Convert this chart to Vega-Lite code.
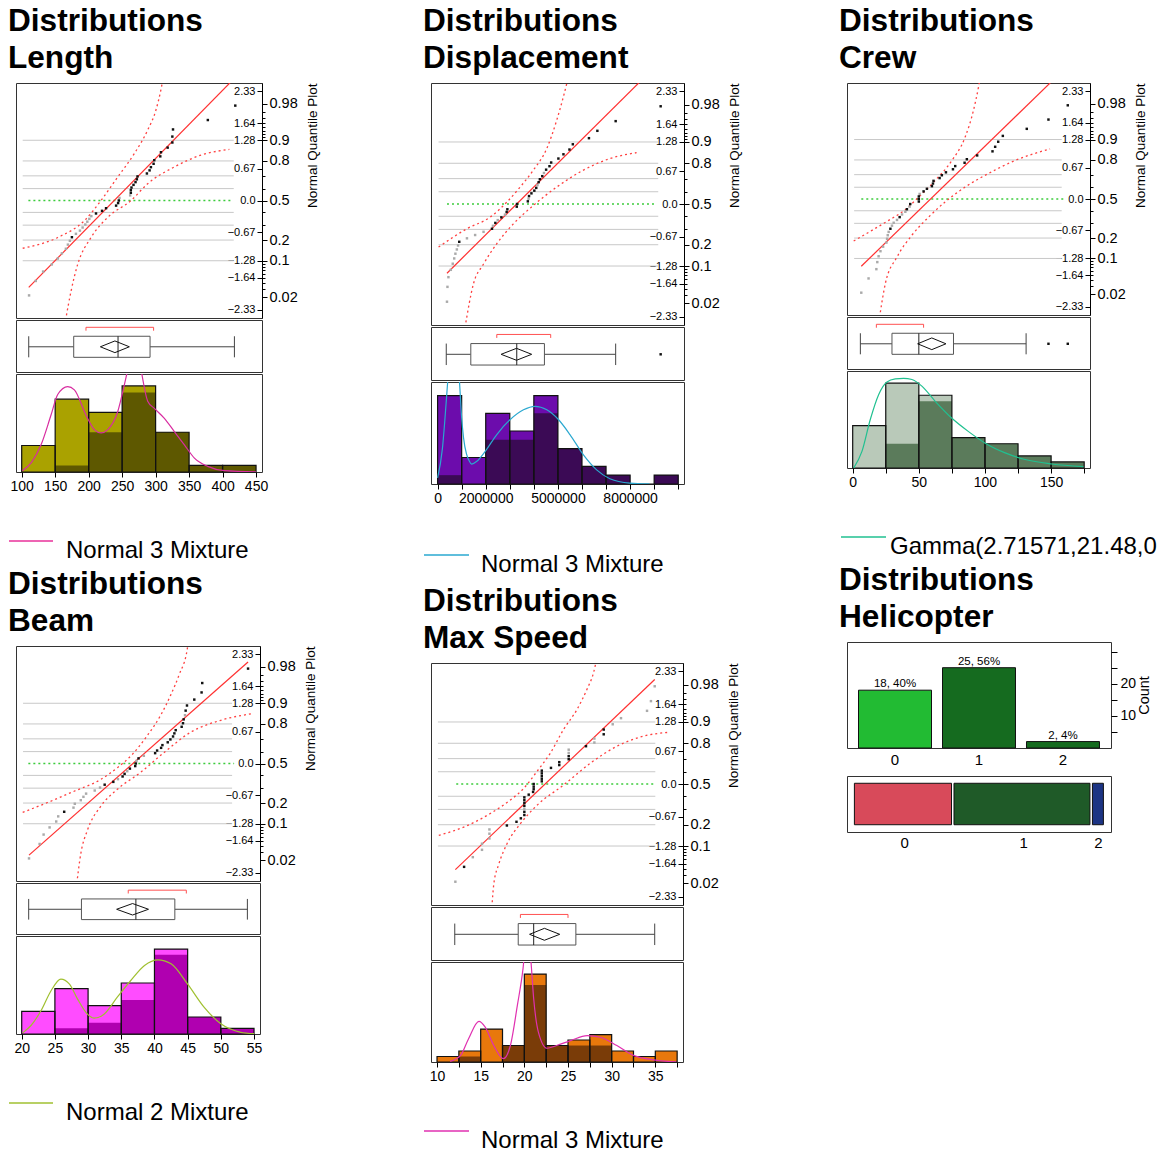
{
"$schema": "https://vega.github.io/schema/vega-lite/v6.json",
"background": "white",
"padding": {"left": 8, "top": 5, "right": 0, "bottom": 0},
"config": {
  "font": "Liberation Sans",
  "view": {"stroke": "#333", "strokeWidth": 1},
  "axis": {"labelFont": "Liberation Sans", "titleFont": "Liberation Sans", "labelColor": "#000", "titleColor": "#000", "tickColor": "#000", "domainColor": "#000", "grid": false, "titleFontWeight": "normal", "labelBound": false},
  "title": {"font": "Liberation Sans", "fontSize": 31.6, "fontWeight": "bold", "anchor": "start", "frame": "group", "dx": -8, "offset": 8, "lineHeight": 37, "color": "#000"}
},
"datasets": {
  "dec": [{"z": -1.2816}, {"z": -0.8416}, {"z": -0.5244}, {"z": -0.2533}, {"z": 0.2533}, {"z": 0.5244}, {"z": 0.8416}, {"z": 1.2816}],
  "mid": [{"z": 0}],
  "len_pts": [
    {"v":111,"z":-2.019,"s":"g"},{"v":121,"z":-1.712,"s":"g"},{"v":132,"z":-1.512,"s":"g"},{"v":145,"z":-1.36,"s":"g"},{"v":154,"z":-1.234,"s":"g"},
    {"v":160,"z":-1.125,"s":"g"},{"v":166,"z":-1.027,"s":"g"},{"v":169,"z":-0.939,"s":"g"},{"v":172,"z":-0.857,"s":"g"},{"v":175,"z":-0.781,"s":"b"},
    {"v":181,"z":-0.709,"s":"g"},{"v":187,"z":-0.641,"s":"g"},{"v":191,"z":-0.575,"s":"g"},{"v":195,"z":-0.512,"s":"g"},{"v":198,"z":-0.451,"s":"g"},
    {"v":201,"z":-0.391,"s":"g"},{"v":204,"z":-0.333,"s":"g"},{"v":211,"z":-0.276,"s":"b"},{"v":220,"z":-0.22,"s":"b"},{"v":226,"z":-0.164,"s":"b"},
    {"v":241,"z":-0.109,"s":"b"},{"v":244,"z":-0.055,"s":"b"},{"v":245,"z":0,"s":"b"},{"v":246,"z":0.055,"s":"g"},{"v":262,"z":0.109,"s":"g"},
    {"v":263,"z":0.164,"s":"b"},{"v":263,"z":0.22,"s":"b"},{"v":264,"z":0.276,"s":"b"},{"v":267,"z":0.333,"s":"b"},{"v":270,"z":0.391,"s":"b"},
    {"v":272,"z":0.451,"s":"b"},{"v":273,"z":0.512,"s":"b"},{"v":287,"z":0.575,"s":"b"},{"v":291,"z":0.641,"s":"b"},{"v":293,"z":0.709,"s":"b"},
    {"v":297,"z":0.781,"s":"b"},{"v":298,"z":0.857,"s":"b"},{"v":307,"z":0.939,"s":"b"},{"v":308,"z":1.027,"s":"b"},{"v":318,"z":1.125,"s":"b"},
    {"v":325,"z":1.234,"s":"b"},{"v":325,"z":1.36,"s":"b"},{"v":326,"z":1.512,"s":"b"},{"v":378,"z":1.712,"s":"b"},{"v":419,"z":2.019,"s":"b"}],
  "len_cb": [
    {"c":"a","x":101.5,"z":-1.016},{"c":"a","x":153.8,"z":-0.787},{"c":"a","x":193.6,"z":-0.429},{"c":"a","x":218.5,"z":0},{"c":"a","x":243.4,"z":0.5},
    {"c":"a","x":268.3,"z":1.0},{"c":"a","x":288.2,"z":1.5},{"c":"a","x":300.6,"z":1.93},{"c":"a","x":308,"z":2.36},{"c":"a","x":310.6,"z":2.55},
    {"c":"b","x":165.5,"z":-2.55},{"c":"b","x":173.7,"z":-1.93},{"c":"b","x":183.6,"z":-1.36},{"c":"b","x":203.6,"z":-0.787},{"c":"b","x":228.5,"z":-0.358},
    {"c":"b","x":263.3,"z":0},{"c":"b","x":288.2,"z":0.358},{"c":"b","x":328.1,"z":0.715},{"c":"b","x":367.8,"z":0.966},{"c":"b","x":410.2,"z":1.087}],
  "len_fit": [{"x":110.5,"z":-1.85},{"x":417.7,"z":2.6}],
  "len_box": [{"mn":110.5,"q1":177.7,"md":243.9,"q3":291.7,"mx":417.7,"mu":239.2,"cl":217.5,"ch":260.8,"sl":196,"sh":297}],
  "len_hist": [{"b0":100,"b1":150,"n":4,"k":0},{"b0":150,"b1":200,"n":11,"k":1},{"b0":200,"b1":250,"n":9,"k":6},{"b0":250,"b1":300,"n":13,"k":12},{"b0":300,"b1":350,"n":6,"k":6},{"b0":350,"b1":400,"n":1,"k":1},{"b0":400,"b1":450,"n":1,"k":1}],
  "len_curve": [{"x":101,"c":0.2},{"x":115,"c":1.5},{"x":128.9,"c":4.1},{"x":143.8,"c":8.6},{"x":153.8,"c":11.7},{"x":168.7,"c":12.9},{"x":178.7,"c":12.4},{"x":196,"c":8.6},{"x":208.6,"c":6.4},{"x":218.5,"c":5.9},{"x":228.5,"c":6.4},{"x":243.4,"c":9.1},{"x":253.4,"c":13.2},{"x":258.3,"c":15.5},{"x":263,"c":18.5},{"x":268,"c":19.5},{"x":273,"c":18.5},{"x":278.2,"c":15.5},{"x":288.2,"c":10.7},{"x":298.2,"c":9.6},{"x":313.1,"c":8.1},{"x":328,"c":6.1},{"x":343,"c":4.1},{"x":358,"c":2.1},{"x":377.8,"c":0.85},{"x":402.8,"c":0.2},{"x":450,"c":0.02}],
  "disp_pts": [
    {"v":390000,"z":-2.019,"s":"g"},{"v":410000,"z":-1.712,"s":"g"},{"v":450000,"z":-1.512,"s":"g"},{"v":550000,"z":-1.36,"s":"g"},{"v":630000,"z":-1.234,"s":"g"},
    {"v":690000,"z":-1.125,"s":"g"},{"v":740000,"z":-1.027,"s":"g"},{"v":800000,"z":-0.939,"s":"g"},{"v":850000,"z":-0.857,"s":"g"},{"v":900000,"z":-0.781,"s":"b"},
    {"v":1220000,"z":-0.709,"s":"g"},{"v":1560000,"z":-0.641,"s":"g"},{"v":1910000,"z":-0.575,"s":"g"},{"v":2260000,"z":-0.512,"s":"b"},{"v":2300000,"z":-0.451,"s":"g"},
    {"v":2400000,"z":-0.391,"s":"b"},{"v":2500000,"z":-0.333,"s":"g"},{"v":2650000,"z":-0.276,"s":"b"},{"v":2800000,"z":-0.22,"s":"g"},{"v":2870000,"z":-0.164,"s":"b"},
    {"v":2900000,"z":-0.109,"s":"b"},{"v":3290000,"z":-0.055,"s":"b"},{"v":3300000,"z":0,"s":"b"},{"v":3750000,"z":0.055,"s":"b"},{"v":3780000,"z":0.109,"s":"g"},
    {"v":3800000,"z":0.164,"s":"b"},{"v":3900000,"z":0.22,"s":"b"},{"v":4020000,"z":0.276,"s":"b"},{"v":4100000,"z":0.333,"s":"b"},{"v":4150000,"z":0.391,"s":"g"},
    {"v":4200000,"z":0.451,"s":"b"},{"v":4250000,"z":0.512,"s":"b"},{"v":4350000,"z":0.575,"s":"b"},{"v":4420000,"z":0.641,"s":"g"},{"v":4510000,"z":0.709,"s":"b"},
    {"v":4650000,"z":0.781,"s":"b"},{"v":4720000,"z":0.857,"s":"b"},{"v":5020000,"z":0.939,"s":"b"},{"v":5230000,"z":1.027,"s":"b"},{"v":5480000,"z":1.125,"s":"b"},
    {"v":5620000,"z":1.234,"s":"b"},{"v":6290000,"z":1.36,"s":"b"},{"v":6640000,"z":1.512,"s":"b"},{"v":7400000,"z":1.712,"s":"b"},{"v":9270000,"z":2.019,"s":"b"}],
  "disp_cb": [
    {"c":"a","x":40000,"z":-0.89},{"c":"a","x":1220000,"z":-0.51},{"c":"a","x":2190000,"z":-0.27},{"c":"a","x":2880000,"z":0.04},{"c":"a","x":3430000,"z":0.35},
    {"c":"a","x":3980000,"z":0.7},{"c":"a","x":4540000,"z":1.15},{"c":"a","x":4950000,"z":1.73},{"c":"a","x":5230000,"z":2.22},{"c":"a","x":5400000,"z":2.55},
    {"c":"b","x":1140000,"z":-2.55},{"c":"b","x":1490000,"z":-1.65},{"c":"b","x":1910000,"z":-1.24},{"c":"b","x":2460000,"z":-0.82},{"c":"b","x":3150000,"z":-0.41},
    {"c":"b","x":3980000,"z":-0.03},{"c":"b","x":4950000,"z":0.35},{"c":"b","x":6060000,"z":0.7},{"c":"b","x":7170000,"z":0.94},{"c":"b","x":8270000,"z":1.06}],
  "disp_fit": [{"x":390000,"z":-1.43},{"x":9270000,"z":2.95}],
  "disp_box": [{"mn":360000,"q1":1380000,"md":3290000,"q3":4440000,"mx":7400000,"mu":3280000,"cl":2640000,"ch":3910000,"sl":2460000,"sh":4700000}],
  "disp_hist": [{"b0":0,"b1":1000000,"n":10,"k":1},{"b0":1000000,"b1":2000000,"n":3,"k":0},{"b0":2000000,"b1":3000000,"n":8,"k":5},{"b0":3000000,"b1":4000000,"n":6,"k":5},{"b0":4000000,"b1":5000000,"n":10,"k":8},{"b0":5000000,"b1":6000000,"n":4,"k":4},{"b0":6000000,"b1":7000000,"n":2,"k":2},{"b0":7000000,"b1":8000000,"n":1,"k":1},{"b0":8000000,"b1":9000000,"n":0,"k":0},{"b0":9000000,"b1":10000000,"n":1,"k":1}],
  "disp_curve": [{"x":0,"c":0.7},{"x":200000,"c":4},{"x":350000,"c":9},{"x":420000,"c":11.6},{"x":550000,"c":17},{"x":660000,"c":20},{"x":780000,"c":17},{"x":910000,"c":11.6},{"x":1000000,"c":7.5},{"x":1080000,"c":5.2},{"x":1200000,"c":3.4},{"x":1300000,"c":2.7},{"x":1420000,"c":2.26},{"x":1630000,"c":2.57},{"x":1980000,"c":3.7},{"x":2460000,"c":5.6},{"x":3020000,"c":7.3},{"x":3570000,"c":8.4},{"x":4050000,"c":8.8},{"x":4540000,"c":8.4},{"x":5020000,"c":7.3},{"x":5500000,"c":5.6},{"x":6060000,"c":3.3},{"x":6610000,"c":1.6},{"x":7160000,"c":0.6},{"x":7990000,"c":0.1},{"x":8800000,"c":0.01}],
  "crew_pts": [
    {"v":6.5,"z":-2.019,"s":"g"},{"v":12,"z":-1.712,"s":"g"},{"v":17.9,"z":-1.512,"s":"g"},{"v":18.6,"z":-1.36,"s":"g"},{"v":19.6,"z":-1.234,"s":"g"},
    {"v":21,"z":-1.125,"s":"g"},{"v":23,"z":-1.027,"s":"g"},{"v":25.5,"z":-0.939,"s":"g"},{"v":26,"z":-0.857,"s":"g"},{"v":26.5,"z":-0.781,"s":"g"},
    {"v":27.2,"z":-0.709,"s":"g"},{"v":28.5,"z":-0.641,"s":"b"},{"v":29.7,"z":-0.575,"s":"g"},{"v":31,"z":-0.512,"s":"g"},{"v":33.5,"z":-0.451,"s":"g"},
    {"v":35.5,"z":-0.391,"s":"b"},{"v":37.3,"z":-0.333,"s":"g"},{"v":39.8,"z":-0.276,"s":"g"},{"v":41,"z":-0.22,"s":"b"},{"v":43,"z":-0.164,"s":"g"},
    {"v":43.5,"z":-0.109,"s":"b"},{"v":50,"z":-0.055,"s":"b"},{"v":50,"z":0,"s":"b"},{"v":50,"z":0.055,"s":"b"},{"v":50.6,"z":0.109,"s":"g"},
    {"v":53.6,"z":0.164,"s":"b"},{"v":56.1,"z":0.22,"s":"b"},{"v":59.9,"z":0.276,"s":"b"},{"v":60.7,"z":0.333,"s":"b"},{"v":61.1,"z":0.391,"s":"b"},
    {"v":65.7,"z":0.451,"s":"b"},{"v":67.4,"z":0.512,"s":"b"},{"v":70.5,"z":0.575,"s":"b"},{"v":75.8,"z":0.641,"s":"b"},{"v":77.5,"z":0.709,"s":"b"},
    {"v":84.6,"z":0.781,"s":"b"},{"v":86.3,"z":0.857,"s":"b"},{"v":94.1,"z":0.939,"s":"b"},{"v":105.7,"z":1.027,"s":"b"},{"v":107.7,"z":1.125,"s":"b"},
    {"v":110,"z":1.234,"s":"b"},{"v":113.5,"z":1.36,"s":"b"},{"v":131.6,"z":1.512,"s":"b"},{"v":148,"z":1.712,"s":"b"},{"v":162.6,"z":2.019,"s":"b"}],
  "crew_cb": [
    {"c":"a","x":0.75,"z":-0.905},{"c":"a","x":14.6,"z":-0.675},{"c":"a","x":27.2,"z":-0.46},{"c":"a","x":39.8,"z":-0.23},{"c":"a","x":49.8,"z":0.04},
    {"c":"a","x":62.4,"z":0.4},{"c":"a","x":75,"z":0.83},{"c":"a","x":85.1,"z":1.34},{"c":"a","x":91.3,"z":1.91},{"c":"a","x":95.1,"z":2.41},{"c":"a","x":96,"z":2.55},
    {"c":"b","x":20.3,"z":-2.55},{"c":"b","x":24.7,"z":-1.82},{"c":"b","x":33.5,"z":-1.25},{"c":"b","x":44.8,"z":-0.78},{"c":"b","x":57.4,"z":-0.39},
    {"c":"b","x":70,"z":-0.06},{"c":"b","x":85.1,"z":0.26},{"c":"b","x":102.7,"z":0.55},{"c":"b","x":122.8,"z":0.83},{"c":"b","x":149.2,"z":1.08}],
  "crew_fit": [{"x":6.5,"z":-1.45},{"x":162.6,"z":2.87}],
  "crew_box": [{"mn":5.8,"q1":29.7,"md":50,"q3":76.2,"mx":131.1,"mu":59.8,"cl":49.1,"ch":70.5,"sl":17.9,"sh":53.6}],
  "crew_hist": [{"b0":0,"b1":25,"n":7,"k":0},{"b0":25,"b1":50,"n":14,"k":4},{"b0":50,"b1":75,"n":12,"k":11},{"b0":75,"b1":100,"n":5,"k":5},{"b0":100,"b1":125,"n":4,"k":4},{"b0":125,"b1":150,"n":2,"k":2},{"b0":150,"b1":175,"n":1,"k":1}],
  "crew_curve": [{"x":0.75,"c":0},{"x":7,"c":2.75},{"x":13.3,"c":8},{"x":19.6,"c":12.1},{"x":25.9,"c":14.2},{"x":32.2,"c":14.7},{"x":38.5,"c":14.8},{"x":44.8,"c":14.6},{"x":52.3,"c":13.5},{"x":62.4,"c":11},{"x":75,"c":8.2},{"x":87.6,"c":6},{"x":100.2,"c":4.1},{"x":115.3,"c":2.5},{"x":130.4,"c":1.4},{"x":150.5,"c":0.66},{"x":174.4,"c":0.22}],
  "beam_pts": [
    {"v":21.1,"z":-2.019,"s":"g"},{"v":22.7,"z":-1.712,"s":"g"},{"v":23.3,"z":-1.512,"s":"g"},{"v":24.2,"z":-1.36,"s":"g"},{"v":25.2,"z":-1.234,"s":"g"},
    {"v":25.5,"z":-1.125,"s":"g"},{"v":26.4,"z":-1.027,"s":"b"},{"v":27.8,"z":-0.939,"s":"g"},{"v":28,"z":-0.857,"s":"g"},{"v":28.9,"z":-0.781,"s":"g"},
    {"v":29.3,"z":-0.709,"s":"g"},{"v":29.7,"z":-0.641,"s":"g"},{"v":31,"z":-0.575,"s":"g"},{"v":31.8,"z":-0.512,"s":"g"},{"v":32.5,"z":-0.451,"s":"b"},
    {"v":33.8,"z":-0.391,"s":"b"},{"v":34.5,"z":-0.333,"s":"g"},{"v":35.2,"z":-0.276,"s":"b"},{"v":35.5,"z":-0.22,"s":"b"},{"v":35.9,"z":-0.164,"s":"g"},
    {"v":36.3,"z":-0.109,"s":"b"},{"v":37.1,"z":-0.055,"s":"b"},{"v":37.2,"z":0,"s":"b"},{"v":37.3,"z":0.055,"s":"g"},{"v":37.6,"z":0.109,"s":"b"},
    {"v":38.4,"z":0.164,"s":"g"},{"v":40.1,"z":0.22,"s":"b"},{"v":40.4,"z":0.276,"s":"b"},{"v":41,"z":0.333,"s":"b"},{"v":41.2,"z":0.391,"s":"b"},
    {"v":42,"z":0.451,"s":"b"},{"v":42.4,"z":0.512,"s":"b"},{"v":42.8,"z":0.575,"s":"b"},{"v":43,"z":0.641,"s":"b"},{"v":43.2,"z":0.709,"s":"b"},
    {"v":44.1,"z":0.781,"s":"b"},{"v":44.3,"z":0.857,"s":"b"},{"v":44.4,"z":0.939,"s":"b"},{"v":44.6,"z":1.027,"s":"g"},{"v":44.7,"z":1.125,"s":"b"},
    {"v":44.9,"z":1.234,"s":"b"},{"v":46,"z":1.36,"s":"b"},{"v":47.1,"z":1.512,"s":"b"},{"v":47.2,"z":1.712,"s":"b"},{"v":54.1,"z":2.019,"s":"b"}],
  "beam_cb": [
    {"c":"a","x":20.15,"z":-1.04},{"c":"a","x":23.9,"z":-0.83},{"c":"a","x":27.9,"z":-0.59},{"c":"a","x":31.9,"z":-0.34},{"c":"a","x":34.4,"z":-0.09},
    {"c":"a","x":36.7,"z":0.2},{"c":"a","x":38.95,"z":0.6},{"c":"a","x":40.95,"z":1.03},{"c":"a","x":42.46,"z":1.46},{"c":"a","x":43.72,"z":1.89},{"c":"a","x":44.97,"z":2.46},{"c":"a","x":45.05,"z":2.55},
    {"c":"b","x":28.3,"z":-2.55},{"c":"b","x":28.9,"z":-1.92},{"c":"b","x":29.9,"z":-1.42},{"c":"b","x":31.9,"z":-0.91},{"c":"b","x":34.4,"z":-0.55},
    {"c":"b","x":37.9,"z":-0.19},{"c":"b","x":41.5,"z":0.24},{"c":"b","x":45.5,"z":0.67},{"c":"b","x":50,"z":0.92},{"c":"b","x":54.7,"z":1.06}],
  "beam_fit": [{"x":21.1,"z":-1.95},{"x":54.1,"z":2.16}],
  "beam_box": [{"mn":21.05,"q1":29,"md":37.2,"q3":43.07,"mx":54,"mu":36.7,"cl":34.3,"ch":39.1,"sl":36.05,"sh":44.8}],
  "beam_hist": [{"b0":20,"b1":25,"n":4,"k":0},{"b0":25,"b1":30,"n":8,"k":1},{"b0":30,"b1":35,"n":5,"k":2},{"b0":35,"b1":40,"n":9,"k":6},{"b0":40,"b1":45,"n":15,"k":14},{"b0":45,"b1":50,"n":3,"k":3},{"b0":50,"b1":55,"n":1,"k":1}],
  "beam_curve": [{"x":20.15,"c":0.2},{"x":21.4,"c":1.5},{"x":22.9,"c":4.1},{"x":24.4,"c":7.6},{"x":25.9,"c":9.7},{"x":27.2,"c":8.8},{"x":28.4,"c":6.2},{"x":29.9,"c":3.5},{"x":30.9,"c":2.8},{"x":32.4,"c":3.5},{"x":34.4,"c":6.5},{"x":36.4,"c":9.4},{"x":38.5,"c":12.1},{"x":40.5,"c":13.1},{"x":42.5,"c":12.4},{"x":45,"c":8.8},{"x":47.5,"c":4.7},{"x":50,"c":1.8},{"x":53,"c":0.3},{"x":55,"c":0.05}],
  "spd_pts": [
    {"v":12.1,"z":-2.019,"s":"g"},{"v":13.1,"z":-1.712,"s":"b"},{"v":14.1,"z":-1.512,"s":"g"},{"v":15.15,"z":-1.36,"s":"g"},{"v":15.15,"z":-1.234,"s":"g"},
    {"v":16,"z":-1.125,"s":"g"},{"v":16,"z":-1.027,"s":"g"},{"v":16,"z":-0.939,"s":"g"},{"v":18,"z":-0.857,"s":"b"},{"v":19.1,"z":-0.781,"s":"b"},
    {"v":19.6,"z":-0.709,"s":"b"},{"v":20,"z":-0.641,"s":"b"},{"v":20,"z":-0.575,"s":"b"},{"v":20,"z":-0.512,"s":"g"},{"v":20,"z":-0.451,"s":"b"},
    {"v":20,"z":-0.391,"s":"b"},{"v":20,"z":-0.333,"s":"b"},{"v":20,"z":-0.276,"s":"b"},{"v":20.5,"z":-0.22,"s":"b"},{"v":21,"z":-0.164,"s":"b"},
    {"v":21.07,"z":-0.109,"s":"b"},{"v":21.07,"z":-0.055,"s":"b"},{"v":21.07,"z":0,"s":"b"},{"v":22,"z":0.055,"s":"b"},{"v":22,"z":0.109,"s":"b"},
    {"v":22,"z":0.164,"s":"b"},{"v":22,"z":0.22,"s":"b"},{"v":22,"z":0.276,"s":"b"},{"v":23.05,"z":0.333,"s":"b"},{"v":24,"z":0.391,"s":"b"},
    {"v":24,"z":0.451,"s":"b"},{"v":25.08,"z":0.512,"s":"b"},{"v":25.08,"z":0.575,"s":"b"},{"v":25.08,"z":0.641,"s":"g"},{"v":25.08,"z":0.709,"s":"g"},
    {"v":27.06,"z":0.781,"s":"b"},{"v":28.02,"z":0.857,"s":"g"},{"v":28.02,"z":0.939,"s":"g"},{"v":29.09,"z":1.027,"s":"b"},{"v":29.09,"z":1.125,"s":"b"},
    {"v":30.12,"z":1.234,"s":"g"},{"v":31.07,"z":1.36,"s":"g"},{"v":34.05,"z":1.512,"s":"g"},{"v":34.5,"z":1.712,"s":"g"},{"v":34.93,"z":2.019,"s":"g"}],
  "spd_cb": [
    {"c":"a","x":10.2,"z":-1.06},{"c":"a","x":13.06,"z":-0.89},{"c":"a","x":16.1,"z":-0.61},{"c":"a","x":18.4,"z":-0.33},{"c":"a","x":19.93,"z":-0.09},
    {"c":"a","x":21.45,"z":0.26},{"c":"a","x":22.98,"z":0.64},{"c":"a","x":24.5,"z":1.13},{"c":"a","x":26.03,"z":1.54},{"c":"a","x":27.18,"z":1.96},{"c":"a","x":27.94,"z":2.31},{"c":"a","x":28.25,"z":2.55},
    {"c":"b","x":16.28,"z":-2.55},{"c":"b","x":16.5,"z":-2.07},{"c":"b","x":17.07,"z":-1.66},{"c":"b","x":18,"z":-1.24},{"c":"b","x":19.55,"z":-0.82},
    {"c":"b","x":21.45,"z":-0.44},{"c":"b","x":24.5,"z":-0.02},{"c":"b","x":27.56,"z":0.43},{"c":"b","x":30.6,"z":0.78},{"c":"b","x":33.67,"z":0.99},{"c":"b","x":36.7,"z":1.07}],
  "spd_fit": [{"x":12.1,"z":-1.77},{"x":34.93,"z":2.16}],
  "spd_box": [{"mn":12.03,"q1":19.3,"md":21.07,"q3":25.9,"mx":34.93,"mu":22.3,"cl":20.6,"ch":24.05,"sl":19.55,"sh":25}],
  "spd_hist": [{"b0":10,"b1":12.5,"n":1,"k":0},{"b0":12.5,"b1":15,"n":2,"k":1},{"b0":15,"b1":17.5,"n":6,"k":0},{"b0":17.5,"b1":20,"n":3,"k":3},{"b0":20,"b1":22.5,"n":16,"k":14},{"b0":22.5,"b1":25,"n":3,"k":3},{"b0":25,"b1":27.5,"n":4,"k":3},{"b0":27.5,"b1":30,"n":5,"k":3},{"b0":30,"b1":32.5,"n":2,"k":0},{"b0":32.5,"b1":35,"n":1,"k":0},{"b0":35,"b1":37.5,"n":2,"k":0}],
  "spd_curve": [{"x":11.5,"c":0.1},{"x":12.7,"c":1.2},{"x":13.6,"c":4.2},{"x":14.8,"c":7.4},{"x":15.5,"c":6.4},{"x":16.5,"c":3},{"x":17.6,"c":0.6},{"x":18.4,"c":3},{"x":19.2,"c":10.3},{"x":19.85,"c":17},{"x":20.3,"c":24},{"x":20.76,"c":18.2},{"x":21.07,"c":11.5},{"x":21.6,"c":5.5},{"x":22.6,"c":2.5},{"x":23.7,"c":3},{"x":25.3,"c":3.9},{"x":27.2,"c":4.8},{"x":28.7,"c":4.5},{"x":30.6,"c":3},{"x":32.5,"c":1.2},{"x":35.2,"c":0.3},{"x":37.4,"c":0.02}],
  "heli": [{"k":"0","n":18,"lab":"18, 40%","p0":0,"p1":0.4},{"k":"1","n":25,"lab":"25, 56%","p0":0.4,"p1":0.956},{"k":"2","n":2,"lab":"2, 4%","p0":0.956,"p1":1}]
},
"spacing": 97,
"hconcat": [
 {"spacing": 103, "hconcat": [
  {"spacing": 5, "vconcat": [
   {"spacing": 36, "vconcat": [
    {"title": {"text": ["Distributions", "Length"]}, "spacing": 0, "vconcat": [
     {"width": 246, "height": 235, "resolve": {"axis": {"y": "independent"}}, "layer": [
      {"data": {"name": "dec"}, "mark": {"type": "rule", "color": "#c8c8c8"}, "encoding": {"x": {"datum": 101.5, "type": "quantitative", "scale": {"domain": [91.5, 458.9], "nice": false, "zero": false}, "axis": null}, "x2": {"datum": 416.7}, "y": {"field": "z", "type": "quantitative", "scale": {"domain": [-2.5, 2.5], "nice": false, "zero": false}, "axis": {"orient": "right", "values": [2.3263, 1.6449, 1.2816, 0.6745, 0, -0.6745, -1.2816, -1.6449, -2.3263], "labelExpr": "datum.value == 0 ? '0.0' : format(datum.value, '.2f')", "tickSize": -5, "labelPadding": -2, "labelAlign": "right", "labelBaseline": "middle", "labelFontSize": 11, "domain": false, "title": null, "labelOverlap": false, "labelFlush": false}}}},
      {"data": {"name": "mid"}, "mark": {"type": "rule", "color": "#3ccc3c", "strokeDash": [2, 3], "strokeWidth": 1.5}, "encoding": {"x": {"datum": 110, "type": "quantitative", "scale": {"domain": [91.5, 458.9], "nice": false, "zero": false}, "axis": null}, "x2": {"datum": 415}, "y": {"field": "z", "type": "quantitative", "scale": {"domain": [-2.5, 2.5], "nice": false, "zero": false}, "axis": {"orient": "right", "values": [-1.8808, -1.7507, -1.6449, -1.5548, -1.4758, -1.4051, -1.3408, -0.5244, -0.2533, 0.2533, 0.5244, 1.3408, 1.4051, 1.4758, 1.5548, 1.6449, 1.7507, 1.8808], "labels": false, "tickSize": 3, "domain": false, "title": null}}}},
      {"data": {"name": "len_cb"}, "mark": {"type": "line", "color": "#ff4040", "strokeDash": [2, 3], "strokeWidth": 1.3, "clip": true, "interpolate": "monotone"}, "encoding": {"x": {"field": "x", "type": "quantitative", "scale": {"domain": [91.5, 458.9], "nice": false, "zero": false}, "axis": null}, "y": {"field": "z", "type": "quantitative", "scale": {"domain": [-2.5, 2.5], "nice": false, "zero": false}, "axis": null}, "detail": {"field": "c"}}},
      {"data": {"name": "len_fit"}, "mark": {"type": "line", "color": "#ff3030", "strokeWidth": 1.2, "clip": true}, "encoding": {"x": {"field": "x", "type": "quantitative", "scale": {"domain": [91.5, 458.9], "nice": false, "zero": false}, "axis": null}, "y": {"field": "z", "type": "quantitative", "scale": {"domain": [-2.5, 2.5], "nice": false, "zero": false}, "axis": null}}},
      {"data": {"name": "len_pts"}, "transform": [{"filter": "datum.s == 'g'"}], "mark": {"type": "square", "size": 6, "color": "#aaaaaa", "opacity": 1}, "encoding": {"x": {"field": "v", "type": "quantitative", "scale": {"domain": [91.5, 458.9], "nice": false, "zero": false}, "axis": null}, "y": {"field": "z", "type": "quantitative", "scale": {"domain": [-2.5, 2.5], "nice": false, "zero": false}, "axis": null}}},
      {"data": {"name": "len_pts"}, "transform": [{"filter": "datum.s == 'b'"}], "mark": {"type": "square", "size": 6, "color": "#111111", "opacity": 1}, "encoding": {"x": {"field": "v", "type": "quantitative", "scale": {"domain": [91.5, 458.9], "nice": false, "zero": false}, "axis": null}, "y": {"field": "z", "type": "quantitative", "scale": {"domain": [-2.5, 2.5], "nice": false, "zero": false}, "axis": {"orient": "right", "values": [-2.0537, -1.2816, -0.8416, 0, 0.8416, 1.2816, 2.0537], "labelExpr": "datum.value < -2 ? '0.02' : datum.value < -1 ? '0.1' : datum.value < -0.5 ? '0.2' : datum.value < 0.5 ? '0.5' : datum.value < 1 ? '0.8' : datum.value < 2 ? '0.9' : '0.98'", "tickSize": 5, "labelPadding": 2, "labelFontSize": 14.5, "labelOverlap": false, "labelFlush": false, "domain": true, "title": "Normal Quantile Plot", "titleFontSize": 13.5, "titleAngle": 270, "titleBaseline": "top", "titleAnchor": "end", "titlePadding": 8}}}}
     ]},
     {"width": 246, "height": 52, "data": {"name": "len_box"}, "layer": [
      {"mark": {"type": "rule", "color": "#444"}, "encoding": {"x": {"field": "mn", "type": "quantitative", "scale": {"domain": [91.5, 458.9], "nice": false, "zero": false}, "axis": null}, "x2": {"field": "q1"}, "y": {"datum": 0, "type": "quantitative", "scale": {"domain": [-4.31, 4.58], "nice": false, "zero": false}, "axis": null}}},
      {"mark": {"type": "rule", "color": "#444"}, "encoding": {"x": {"field": "q3", "type": "quantitative", "scale": {"domain": [91.5, 458.9], "nice": false, "zero": false}, "axis": null}, "x2": {"field": "mx"}, "y": {"datum": 0, "type": "quantitative", "scale": {"domain": [-4.31, 4.58], "nice": false, "zero": false}, "axis": null}}},
      {"mark": {"type": "rule", "color": "#444"}, "encoding": {"x": {"field": "mn", "type": "quantitative", "scale": {"domain": [91.5, 458.9], "nice": false, "zero": false}, "axis": null}, "y": {"datum": -1.8, "type": "quantitative", "scale": {"domain": [-4.31, 4.58], "nice": false, "zero": false}, "axis": null}, "y2": {"datum": 1.8}}},
      {"mark": {"type": "rule", "color": "#444"}, "encoding": {"x": {"field": "mx", "type": "quantitative", "scale": {"domain": [91.5, 458.9], "nice": false, "zero": false}, "axis": null}, "y": {"datum": -1.8, "type": "quantitative", "scale": {"domain": [-4.31, 4.58], "nice": false, "zero": false}, "axis": null}, "y2": {"datum": 1.8}}},
      {"mark": {"type": "rect", "fill": "#ffffff", "stroke": "#555", "strokeWidth": 1}, "encoding": {"x": {"field": "q1", "type": "quantitative", "scale": {"domain": [91.5, 458.9], "nice": false, "zero": false}, "axis": null}, "x2": {"field": "q3"}, "y": {"datum": -1.8, "type": "quantitative", "scale": {"domain": [-4.31, 4.58], "nice": false, "zero": false}, "axis": null}, "y2": {"datum": 1.8}}},
      {"mark": {"type": "rule", "color": "#222"}, "encoding": {"x": {"field": "md", "type": "quantitative", "scale": {"domain": [91.5, 458.9], "nice": false, "zero": false}, "axis": null}, "y": {"datum": -1.8, "type": "quantitative", "scale": {"domain": [-4.31, 4.58], "nice": false, "zero": false}, "axis": null}, "y2": {"datum": 1.8}}},
      {"mark": {"type": "rule", "color": "#111"}, "encoding": {"x": {"field": "cl", "type": "quantitative", "scale": {"domain": [91.5, 458.9], "nice": false, "zero": false}, "axis": null}, "x2": {"field": "mu"}, "y": {"datum": 0, "type": "quantitative", "scale": {"domain": [-4.31, 4.58], "nice": false, "zero": false}, "axis": null}, "y2": {"datum": 1}}},
      {"mark": {"type": "rule", "color": "#111"}, "encoding": {"x": {"field": "mu", "type": "quantitative", "scale": {"domain": [91.5, 458.9], "nice": false, "zero": false}, "axis": null}, "x2": {"field": "ch"}, "y": {"datum": 1, "type": "quantitative", "scale": {"domain": [-4.31, 4.58], "nice": false, "zero": false}, "axis": null}, "y2": {"datum": 0}}},
      {"mark": {"type": "rule", "color": "#111"}, "encoding": {"x": {"field": "ch", "type": "quantitative", "scale": {"domain": [91.5, 458.9], "nice": false, "zero": false}, "axis": null}, "x2": {"field": "mu"}, "y": {"datum": 0, "type": "quantitative", "scale": {"domain": [-4.31, 4.58], "nice": false, "zero": false}, "axis": null}, "y2": {"datum": -1}}},
      {"mark": {"type": "rule", "color": "#111"}, "encoding": {"x": {"field": "mu", "type": "quantitative", "scale": {"domain": [91.5, 458.9], "nice": false, "zero": false}, "axis": null}, "x2": {"field": "cl"}, "y": {"datum": -1, "type": "quantitative", "scale": {"domain": [-4.31, 4.58], "nice": false, "zero": false}, "axis": null}, "y2": {"datum": 0}}},
      {"mark": {"type": "rule", "color": "#ff5050"}, "encoding": {"x": {"field": "sl", "type": "quantitative", "scale": {"domain": [91.5, 458.9], "nice": false, "zero": false}, "axis": null}, "x2": {"field": "sh"}, "y": {"datum": 3.33, "type": "quantitative", "scale": {"domain": [-4.31, 4.58], "nice": false, "zero": false}, "axis": null}}},
      {"mark": {"type": "rule", "color": "#ff5050"}, "encoding": {"x": {"field": "sl", "type": "quantitative", "scale": {"domain": [91.5, 458.9], "nice": false, "zero": false}, "axis": null}, "y": {"datum": 2.75, "type": "quantitative", "scale": {"domain": [-4.31, 4.58], "nice": false, "zero": false}, "axis": null}, "y2": {"datum": 3.33}}},
      {"mark": {"type": "rule", "color": "#ff5050"}, "encoding": {"x": {"field": "sh", "type": "quantitative", "scale": {"domain": [91.5, 458.9], "nice": false, "zero": false}, "axis": null}, "y": {"datum": 2.75, "type": "quantitative", "scale": {"domain": [-4.31, 4.58], "nice": false, "zero": false}, "axis": null}, "y2": {"datum": 3.33}}}
     ]},
     {"width": 246, "height": 98, "data": {"name": "len_hist"}, "layer": [
      {"mark": {"type": "rect", "color": "#aaa200"}, "encoding": {"x": {"field": "b0", "type": "quantitative", "scale": {"domain": [91.5, 458.9], "nice": false, "zero": false}, "axis": {"values": [100, 150, 200, 250, 300, 350, 400, 450], "tickSize": 5, "labelFontSize": 14, "labelPadding": 2, "domain": false, "title": null, "labelOverlap": false, "labelFlush": false}}, "x2": {"field": "b1"}, "y": {"field": "n", "type": "quantitative", "scale": {"domain": [0, 14.8], "nice": false}, "axis": null}, "y2": {"datum": 0}}},
      {"mark": {"type": "rect", "color": "#5e5800"}, "encoding": {"x": {"field": "b0", "type": "quantitative", "scale": {"domain": [91.5, 458.9], "nice": false, "zero": false}, "axis": {"values": [100, 150, 200, 250, 300, 350, 400, 450], "tickSize": 5, "labelFontSize": 14, "labelPadding": 2, "domain": false, "title": null, "labelOverlap": false, "labelFlush": false}}, "x2": {"field": "b1"}, "y": {"field": "k", "type": "quantitative", "scale": {"domain": [0, 14.8], "nice": false}, "axis": null}, "y2": {"datum": 0}}},
      {"mark": {"type": "rect", "fillOpacity": 0, "stroke": "#111", "strokeWidth": 1.2}, "encoding": {"x": {"field": "b0", "type": "quantitative", "scale": {"domain": [91.5, 458.9], "nice": false, "zero": false}, "axis": {"values": [100, 150, 200, 250, 300, 350, 400, 450], "tickSize": 5, "labelFontSize": 14, "labelPadding": 2, "domain": false, "title": null, "labelOverlap": false, "labelFlush": false}}, "x2": {"field": "b1"}, "y": {"field": "n", "type": "quantitative", "scale": {"domain": [0, 14.8], "nice": false}, "axis": null}, "y2": {"datum": 0}}},
      {"data": {"name": "len_curve"}, "mark": {"type": "line", "color": "#d82ca0", "strokeWidth": 1.2, "clip": true, "interpolate": "monotone"}, "encoding": {"x": {"field": "x", "type": "quantitative", "scale": {"domain": [91.5, 458.9], "nice": false, "zero": false}, "axis": {"values": [100, 150, 200, 250, 300, 350, 400, 450], "tickSize": 5, "labelFontSize": 14, "labelPadding": 2, "domain": false, "title": null, "labelOverlap": false, "labelFlush": false}}, "y": {"field": "c", "type": "quantitative", "scale": {"domain": [0, 14.8], "nice": false}, "axis": null}}}
     ]}
    ]},
    {"width": 240, "height": 30, "view": {"stroke": null}, "data": {"values": [{"t": "Normal 3 Mixture"}]}, "layer": [
     {"mark": {"type": "rule", "color": "#e8309a", "strokeWidth": 1.5}, "encoding": {"x": {"datum": -7, "type": "quantitative", "scale": {"domain": [0, 240], "nice": false, "zero": false}, "axis": null}, "x2": {"datum": 37}, "y": {"datum": 0.63, "type": "quantitative", "scale": {"domain": [0, 1], "nice": false}, "axis": null}}},
     {"mark": {"type": "text", "align": "left", "baseline": "middle", "fontSize": 24, "color": "#000"}, "encoding": {"x": {"datum": 50, "type": "quantitative", "scale": {"domain": [0, 240], "nice": false, "zero": false}, "axis": null}, "y": {"datum": 0.3, "type": "quantitative", "scale": {"domain": [0, 1], "nice": false}, "axis": null}, "text": {"field": "t"}}}
    ]}
   ]},
   {"spacing": 36, "vconcat": [
    {"title": {"text": ["Distributions", "Beam"]}, "spacing": 0, "vconcat": [
     {"width": 244, "height": 235, "resolve": {"axis": {"y": "independent"}}, "layer": [
      {"data": {"name": "dec"}, "mark": {"type": "rule", "color": "#c8c8c8"}, "encoding": {"x": {"datum": 20.2, "type": "quantitative", "scale": {"domain": [19.14, 55.9], "nice": false, "zero": false}, "axis": null}, "x2": {"datum": 51.7}, "y": {"field": "z", "type": "quantitative", "scale": {"domain": [-2.5, 2.5], "nice": false, "zero": false}, "axis": {"orient": "right", "values": [2.3263, 1.6449, 1.2816, 0.6745, 0, -0.6745, -1.2816, -1.6449, -2.3263], "labelExpr": "datum.value == 0 ? '0.0' : format(datum.value, '.2f')", "tickSize": -5, "labelPadding": -2, "labelAlign": "right", "labelBaseline": "middle", "labelFontSize": 11, "domain": false, "title": null, "labelOverlap": false, "labelFlush": false}}}},
      {"data": {"name": "mid"}, "mark": {"type": "rule", "color": "#3ccc3c", "strokeDash": [2, 3], "strokeWidth": 1.5}, "encoding": {"x": {"datum": 21, "type": "quantitative", "scale": {"domain": [19.14, 55.9], "nice": false, "zero": false}, "axis": null}, "x2": {"datum": 52}, "y": {"field": "z", "type": "quantitative", "scale": {"domain": [-2.5, 2.5], "nice": false, "zero": false}, "axis": {"orient": "right", "values": [-1.8808, -1.7507, -1.6449, -1.5548, -1.4758, -1.4051, -1.3408, -0.5244, -0.2533, 0.2533, 0.5244, 1.3408, 1.4051, 1.4758, 1.5548, 1.6449, 1.7507, 1.8808], "labels": false, "tickSize": 3, "domain": false, "title": null}}}},
      {"data": {"name": "beam_cb"}, "mark": {"type": "line", "color": "#ff4040", "strokeDash": [2, 3], "strokeWidth": 1.3, "clip": true, "interpolate": "monotone"}, "encoding": {"x": {"field": "x", "type": "quantitative", "scale": {"domain": [19.14, 55.9], "nice": false, "zero": false}, "axis": null}, "y": {"field": "z", "type": "quantitative", "scale": {"domain": [-2.5, 2.5], "nice": false, "zero": false}, "axis": null}, "detail": {"field": "c"}}},
      {"data": {"name": "beam_fit"}, "mark": {"type": "line", "color": "#ff3030", "strokeWidth": 1.2, "clip": true}, "encoding": {"x": {"field": "x", "type": "quantitative", "scale": {"domain": [19.14, 55.9], "nice": false, "zero": false}, "axis": null}, "y": {"field": "z", "type": "quantitative", "scale": {"domain": [-2.5, 2.5], "nice": false, "zero": false}, "axis": null}}},
      {"data": {"name": "beam_pts"}, "transform": [{"filter": "datum.s == 'g'"}], "mark": {"type": "square", "size": 6, "color": "#aaaaaa", "opacity": 1}, "encoding": {"x": {"field": "v", "type": "quantitative", "scale": {"domain": [19.14, 55.9], "nice": false, "zero": false}, "axis": null}, "y": {"field": "z", "type": "quantitative", "scale": {"domain": [-2.5, 2.5], "nice": false, "zero": false}, "axis": null}}},
      {"data": {"name": "beam_pts"}, "transform": [{"filter": "datum.s == 'b'"}], "mark": {"type": "square", "size": 6, "color": "#111111", "opacity": 1}, "encoding": {"x": {"field": "v", "type": "quantitative", "scale": {"domain": [19.14, 55.9], "nice": false, "zero": false}, "axis": null}, "y": {"field": "z", "type": "quantitative", "scale": {"domain": [-2.5, 2.5], "nice": false, "zero": false}, "axis": {"orient": "right", "values": [-2.0537, -1.2816, -0.8416, 0, 0.8416, 1.2816, 2.0537], "labelExpr": "datum.value < -2 ? '0.02' : datum.value < -1 ? '0.1' : datum.value < -0.5 ? '0.2' : datum.value < 0.5 ? '0.5' : datum.value < 1 ? '0.8' : datum.value < 2 ? '0.9' : '0.98'", "tickSize": 5, "labelPadding": 2, "labelFontSize": 14.5, "labelOverlap": false, "labelFlush": false, "domain": true, "title": "Normal Quantile Plot", "titleFontSize": 13.5, "titleAngle": 270, "titleBaseline": "top", "titleAnchor": "end", "titlePadding": 8}}}}
     ]},
     {"width": 244, "height": 51, "data": {"name": "beam_box"}, "layer": [
      {"mark": {"type": "rule", "color": "#444"}, "encoding": {"x": {"field": "mn", "type": "quantitative", "scale": {"domain": [19.14, 55.9], "nice": false, "zero": false}, "axis": null}, "x2": {"field": "q1"}, "y": {"datum": 0, "type": "quantitative", "scale": {"domain": [-4.31, 4.58], "nice": false, "zero": false}, "axis": null}}},
      {"mark": {"type": "rule", "color": "#444"}, "encoding": {"x": {"field": "q3", "type": "quantitative", "scale": {"domain": [19.14, 55.9], "nice": false, "zero": false}, "axis": null}, "x2": {"field": "mx"}, "y": {"datum": 0, "type": "quantitative", "scale": {"domain": [-4.31, 4.58], "nice": false, "zero": false}, "axis": null}}},
      {"mark": {"type": "rule", "color": "#444"}, "encoding": {"x": {"field": "mn", "type": "quantitative", "scale": {"domain": [19.14, 55.9], "nice": false, "zero": false}, "axis": null}, "y": {"datum": -1.8, "type": "quantitative", "scale": {"domain": [-4.31, 4.58], "nice": false, "zero": false}, "axis": null}, "y2": {"datum": 1.8}}},
      {"mark": {"type": "rule", "color": "#444"}, "encoding": {"x": {"field": "mx", "type": "quantitative", "scale": {"domain": [19.14, 55.9], "nice": false, "zero": false}, "axis": null}, "y": {"datum": -1.8, "type": "quantitative", "scale": {"domain": [-4.31, 4.58], "nice": false, "zero": false}, "axis": null}, "y2": {"datum": 1.8}}},
      {"mark": {"type": "rect", "fill": "#ffffff", "stroke": "#555", "strokeWidth": 1}, "encoding": {"x": {"field": "q1", "type": "quantitative", "scale": {"domain": [19.14, 55.9], "nice": false, "zero": false}, "axis": null}, "x2": {"field": "q3"}, "y": {"datum": -1.8, "type": "quantitative", "scale": {"domain": [-4.31, 4.58], "nice": false, "zero": false}, "axis": null}, "y2": {"datum": 1.8}}},
      {"mark": {"type": "rule", "color": "#222"}, "encoding": {"x": {"field": "md", "type": "quantitative", "scale": {"domain": [19.14, 55.9], "nice": false, "zero": false}, "axis": null}, "y": {"datum": -1.8, "type": "quantitative", "scale": {"domain": [-4.31, 4.58], "nice": false, "zero": false}, "axis": null}, "y2": {"datum": 1.8}}},
      {"mark": {"type": "rule", "color": "#111"}, "encoding": {"x": {"field": "cl", "type": "quantitative", "scale": {"domain": [19.14, 55.9], "nice": false, "zero": false}, "axis": null}, "x2": {"field": "mu"}, "y": {"datum": 0, "type": "quantitative", "scale": {"domain": [-4.31, 4.58], "nice": false, "zero": false}, "axis": null}, "y2": {"datum": 1}}},
      {"mark": {"type": "rule", "color": "#111"}, "encoding": {"x": {"field": "mu", "type": "quantitative", "scale": {"domain": [19.14, 55.9], "nice": false, "zero": false}, "axis": null}, "x2": {"field": "ch"}, "y": {"datum": 1, "type": "quantitative", "scale": {"domain": [-4.31, 4.58], "nice": false, "zero": false}, "axis": null}, "y2": {"datum": 0}}},
      {"mark": {"type": "rule", "color": "#111"}, "encoding": {"x": {"field": "ch", "type": "quantitative", "scale": {"domain": [19.14, 55.9], "nice": false, "zero": false}, "axis": null}, "x2": {"field": "mu"}, "y": {"datum": 0, "type": "quantitative", "scale": {"domain": [-4.31, 4.58], "nice": false, "zero": false}, "axis": null}, "y2": {"datum": -1}}},
      {"mark": {"type": "rule", "color": "#111"}, "encoding": {"x": {"field": "mu", "type": "quantitative", "scale": {"domain": [19.14, 55.9], "nice": false, "zero": false}, "axis": null}, "x2": {"field": "cl"}, "y": {"datum": -1, "type": "quantitative", "scale": {"domain": [-4.31, 4.58], "nice": false, "zero": false}, "axis": null}, "y2": {"datum": 0}}},
      {"mark": {"type": "rule", "color": "#ff5050"}, "encoding": {"x": {"field": "sl", "type": "quantitative", "scale": {"domain": [19.14, 55.9], "nice": false, "zero": false}, "axis": null}, "x2": {"field": "sh"}, "y": {"datum": 3.33, "type": "quantitative", "scale": {"domain": [-4.31, 4.58], "nice": false, "zero": false}, "axis": null}}},
      {"mark": {"type": "rule", "color": "#ff5050"}, "encoding": {"x": {"field": "sl", "type": "quantitative", "scale": {"domain": [19.14, 55.9], "nice": false, "zero": false}, "axis": null}, "y": {"datum": 2.75, "type": "quantitative", "scale": {"domain": [-4.31, 4.58], "nice": false, "zero": false}, "axis": null}, "y2": {"datum": 3.33}}},
      {"mark": {"type": "rule", "color": "#ff5050"}, "encoding": {"x": {"field": "sh", "type": "quantitative", "scale": {"domain": [19.14, 55.9], "nice": false, "zero": false}, "axis": null}, "y": {"datum": 2.75, "type": "quantitative", "scale": {"domain": [-4.31, 4.58], "nice": false, "zero": false}, "axis": null}, "y2": {"datum": 3.33}}}
     ]},
     {"width": 244, "height": 98, "data": {"name": "beam_hist"}, "layer": [
      {"mark": {"type": "rect", "color": "#ff4cff"}, "encoding": {"x": {"field": "b0", "type": "quantitative", "scale": {"domain": [19.14, 55.9], "nice": false, "zero": false}, "axis": {"values": [20, 25, 30, 35, 40, 45, 50, 55], "tickSize": 5, "labelFontSize": 14, "labelPadding": 2, "domain": false, "title": null, "labelOverlap": false, "labelFlush": false}}, "x2": {"field": "b1"}, "y": {"field": "n", "type": "quantitative", "scale": {"domain": [0, 17.3], "nice": false}, "axis": null}, "y2": {"datum": 0}}},
      {"mark": {"type": "rect", "color": "#b000b0"}, "encoding": {"x": {"field": "b0", "type": "quantitative", "scale": {"domain": [19.14, 55.9], "nice": false, "zero": false}, "axis": {"values": [20, 25, 30, 35, 40, 45, 50, 55], "tickSize": 5, "labelFontSize": 14, "labelPadding": 2, "domain": false, "title": null, "labelOverlap": false, "labelFlush": false}}, "x2": {"field": "b1"}, "y": {"field": "k", "type": "quantitative", "scale": {"domain": [0, 17.3], "nice": false}, "axis": null}, "y2": {"datum": 0}}},
      {"mark": {"type": "rect", "fillOpacity": 0, "stroke": "#111", "strokeWidth": 1.2}, "encoding": {"x": {"field": "b0", "type": "quantitative", "scale": {"domain": [19.14, 55.9], "nice": false, "zero": false}, "axis": {"values": [20, 25, 30, 35, 40, 45, 50, 55], "tickSize": 5, "labelFontSize": 14, "labelPadding": 2, "domain": false, "title": null, "labelOverlap": false, "labelFlush": false}}, "x2": {"field": "b1"}, "y": {"field": "n", "type": "quantitative", "scale": {"domain": [0, 17.3], "nice": false}, "axis": null}, "y2": {"datum": 0}}},
      {"data": {"name": "beam_curve"}, "mark": {"type": "line", "color": "#a0c030", "strokeWidth": 1.2, "clip": true, "interpolate": "monotone"}, "encoding": {"x": {"field": "x", "type": "quantitative", "scale": {"domain": [19.14, 55.9], "nice": false, "zero": false}, "axis": {"values": [20, 25, 30, 35, 40, 45, 50, 55], "tickSize": 5, "labelFontSize": 14, "labelPadding": 2, "domain": false, "title": null, "labelOverlap": false, "labelFlush": false}}, "y": {"field": "c", "type": "quantitative", "scale": {"domain": [0, 17.3], "nice": false}, "axis": null}}}
     ]}
    ]},
    {"width": 240, "height": 30, "view": {"stroke": null}, "data": {"values": [{"t": "Normal 2 Mixture"}]}, "layer": [
     {"mark": {"type": "rule", "color": "#a0c030", "strokeWidth": 1.5}, "encoding": {"x": {"datum": -7, "type": "quantitative", "scale": {"domain": [0, 240], "nice": false, "zero": false}, "axis": null}, "x2": {"datum": 37}, "y": {"datum": 0.63, "type": "quantitative", "scale": {"domain": [0, 1], "nice": false}, "axis": null}}},
     {"mark": {"type": "text", "align": "left", "baseline": "middle", "fontSize": 24, "color": "#000"}, "encoding": {"x": {"datum": 50, "type": "quantitative", "scale": {"domain": [0, 240], "nice": false, "zero": false}, "axis": null}, "y": {"datum": 0.3, "type": "quantitative", "scale": {"domain": [0, 1], "nice": false}, "axis": null}, "text": {"field": "t"}}}
    ]}
   ]}
  ]},
  {"spacing": 8, "vconcat": [
   {"spacing": 38, "vconcat": [
    {"title": {"text": ["Distributions", "Displacement"]}, "spacing": 0, "vconcat": [
     {"width": 253, "height": 242, "resolve": {"axis": {"y": "independent"}}, "layer": [
      {"data": {"name": "dec"}, "mark": {"type": "rule", "color": "#c8c8c8"}, "encoding": {"x": {"datum": 40000, "type": "quantitative", "scale": {"domain": [-274000, 10240000], "nice": false, "zero": false}, "axis": null}, "x2": {"datum": 9170000}, "y": {"field": "z", "type": "quantitative", "scale": {"domain": [-2.5, 2.5], "nice": false, "zero": false}, "axis": {"orient": "right", "values": [2.3263, 1.6449, 1.2816, 0.6745, 0, -0.6745, -1.2816, -1.6449, -2.3263], "labelExpr": "datum.value == 0 ? '0.0' : format(datum.value, '.2f')", "tickSize": -5, "labelPadding": -2, "labelAlign": "right", "labelBaseline": "middle", "labelFontSize": 11, "domain": false, "title": null, "labelOverlap": false, "labelFlush": false}}}},
      {"data": {"name": "mid"}, "mark": {"type": "rule", "color": "#3ccc3c", "strokeDash": [2, 3], "strokeWidth": 1.5}, "encoding": {"x": {"datum": 390000, "type": "quantitative", "scale": {"domain": [-274000, 10240000], "nice": false, "zero": false}, "axis": null}, "x2": {"datum": 9100000}, "y": {"field": "z", "type": "quantitative", "scale": {"domain": [-2.5, 2.5], "nice": false, "zero": false}, "axis": {"orient": "right", "values": [-1.8808, -1.7507, -1.6449, -1.5548, -1.4758, -1.4051, -1.3408, -0.5244, -0.2533, 0.2533, 0.5244, 1.3408, 1.4051, 1.4758, 1.5548, 1.6449, 1.7507, 1.8808], "labels": false, "tickSize": 3, "domain": false, "title": null}}}},
      {"data": {"name": "disp_cb"}, "mark": {"type": "line", "color": "#ff4040", "strokeDash": [2, 3], "strokeWidth": 1.3, "clip": true, "interpolate": "monotone"}, "encoding": {"x": {"field": "x", "type": "quantitative", "scale": {"domain": [-274000, 10240000], "nice": false, "zero": false}, "axis": null}, "y": {"field": "z", "type": "quantitative", "scale": {"domain": [-2.5, 2.5], "nice": false, "zero": false}, "axis": null}, "detail": {"field": "c"}}},
      {"data": {"name": "disp_fit"}, "mark": {"type": "line", "color": "#ff3030", "strokeWidth": 1.2, "clip": true}, "encoding": {"x": {"field": "x", "type": "quantitative", "scale": {"domain": [-274000, 10240000], "nice": false, "zero": false}, "axis": null}, "y": {"field": "z", "type": "quantitative", "scale": {"domain": [-2.5, 2.5], "nice": false, "zero": false}, "axis": null}}},
      {"data": {"name": "disp_pts"}, "transform": [{"filter": "datum.s == 'g'"}], "mark": {"type": "square", "size": 6, "color": "#aaaaaa", "opacity": 1}, "encoding": {"x": {"field": "v", "type": "quantitative", "scale": {"domain": [-274000, 10240000], "nice": false, "zero": false}, "axis": null}, "y": {"field": "z", "type": "quantitative", "scale": {"domain": [-2.5, 2.5], "nice": false, "zero": false}, "axis": null}}},
      {"data": {"name": "disp_pts"}, "transform": [{"filter": "datum.s == 'b'"}], "mark": {"type": "square", "size": 6, "color": "#111111", "opacity": 1}, "encoding": {"x": {"field": "v", "type": "quantitative", "scale": {"domain": [-274000, 10240000], "nice": false, "zero": false}, "axis": null}, "y": {"field": "z", "type": "quantitative", "scale": {"domain": [-2.5, 2.5], "nice": false, "zero": false}, "axis": {"orient": "right", "values": [-2.0537, -1.2816, -0.8416, 0, 0.8416, 1.2816, 2.0537], "labelExpr": "datum.value < -2 ? '0.02' : datum.value < -1 ? '0.1' : datum.value < -0.5 ? '0.2' : datum.value < 0.5 ? '0.5' : datum.value < 1 ? '0.8' : datum.value < 2 ? '0.9' : '0.98'", "tickSize": 5, "labelPadding": 2, "labelFontSize": 14.5, "labelOverlap": false, "labelFlush": false, "domain": true, "title": "Normal Quantile Plot", "titleFontSize": 13.5, "titleAngle": 270, "titleBaseline": "top", "titleAnchor": "end", "titlePadding": 8}}}}
     ]},
     {"width": 253, "height": 53, "data": {"name": "disp_box"}, "layer": [
      {"mark": {"type": "rule", "color": "#444"}, "encoding": {"x": {"field": "mn", "type": "quantitative", "scale": {"domain": [-274000, 10240000], "nice": false, "zero": false}, "axis": null}, "x2": {"field": "q1"}, "y": {"datum": 0, "type": "quantitative", "scale": {"domain": [-4.31, 4.58], "nice": false, "zero": false}, "axis": null}}},
      {"mark": {"type": "rule", "color": "#444"}, "encoding": {"x": {"field": "q3", "type": "quantitative", "scale": {"domain": [-274000, 10240000], "nice": false, "zero": false}, "axis": null}, "x2": {"field": "mx"}, "y": {"datum": 0, "type": "quantitative", "scale": {"domain": [-4.31, 4.58], "nice": false, "zero": false}, "axis": null}}},
      {"mark": {"type": "rule", "color": "#444"}, "encoding": {"x": {"field": "mn", "type": "quantitative", "scale": {"domain": [-274000, 10240000], "nice": false, "zero": false}, "axis": null}, "y": {"datum": -1.8, "type": "quantitative", "scale": {"domain": [-4.31, 4.58], "nice": false, "zero": false}, "axis": null}, "y2": {"datum": 1.8}}},
      {"mark": {"type": "rule", "color": "#444"}, "encoding": {"x": {"field": "mx", "type": "quantitative", "scale": {"domain": [-274000, 10240000], "nice": false, "zero": false}, "axis": null}, "y": {"datum": -1.8, "type": "quantitative", "scale": {"domain": [-4.31, 4.58], "nice": false, "zero": false}, "axis": null}, "y2": {"datum": 1.8}}},
      {"mark": {"type": "rect", "fill": "#ffffff", "stroke": "#555", "strokeWidth": 1}, "encoding": {"x": {"field": "q1", "type": "quantitative", "scale": {"domain": [-274000, 10240000], "nice": false, "zero": false}, "axis": null}, "x2": {"field": "q3"}, "y": {"datum": -1.8, "type": "quantitative", "scale": {"domain": [-4.31, 4.58], "nice": false, "zero": false}, "axis": null}, "y2": {"datum": 1.8}}},
      {"mark": {"type": "rule", "color": "#222"}, "encoding": {"x": {"field": "md", "type": "quantitative", "scale": {"domain": [-274000, 10240000], "nice": false, "zero": false}, "axis": null}, "y": {"datum": -1.8, "type": "quantitative", "scale": {"domain": [-4.31, 4.58], "nice": false, "zero": false}, "axis": null}, "y2": {"datum": 1.8}}},
      {"mark": {"type": "rule", "color": "#111"}, "encoding": {"x": {"field": "cl", "type": "quantitative", "scale": {"domain": [-274000, 10240000], "nice": false, "zero": false}, "axis": null}, "x2": {"field": "mu"}, "y": {"datum": 0, "type": "quantitative", "scale": {"domain": [-4.31, 4.58], "nice": false, "zero": false}, "axis": null}, "y2": {"datum": 1}}},
      {"mark": {"type": "rule", "color": "#111"}, "encoding": {"x": {"field": "mu", "type": "quantitative", "scale": {"domain": [-274000, 10240000], "nice": false, "zero": false}, "axis": null}, "x2": {"field": "ch"}, "y": {"datum": 1, "type": "quantitative", "scale": {"domain": [-4.31, 4.58], "nice": false, "zero": false}, "axis": null}, "y2": {"datum": 0}}},
      {"mark": {"type": "rule", "color": "#111"}, "encoding": {"x": {"field": "ch", "type": "quantitative", "scale": {"domain": [-274000, 10240000], "nice": false, "zero": false}, "axis": null}, "x2": {"field": "mu"}, "y": {"datum": 0, "type": "quantitative", "scale": {"domain": [-4.31, 4.58], "nice": false, "zero": false}, "axis": null}, "y2": {"datum": -1}}},
      {"mark": {"type": "rule", "color": "#111"}, "encoding": {"x": {"field": "mu", "type": "quantitative", "scale": {"domain": [-274000, 10240000], "nice": false, "zero": false}, "axis": null}, "x2": {"field": "cl"}, "y": {"datum": -1, "type": "quantitative", "scale": {"domain": [-4.31, 4.58], "nice": false, "zero": false}, "axis": null}, "y2": {"datum": 0}}},
      {"mark": {"type": "rule", "color": "#ff5050"}, "encoding": {"x": {"field": "sl", "type": "quantitative", "scale": {"domain": [-274000, 10240000], "nice": false, "zero": false}, "axis": null}, "x2": {"field": "sh"}, "y": {"datum": 3.33, "type": "quantitative", "scale": {"domain": [-4.31, 4.58], "nice": false, "zero": false}, "axis": null}}},
      {"mark": {"type": "rule", "color": "#ff5050"}, "encoding": {"x": {"field": "sl", "type": "quantitative", "scale": {"domain": [-274000, 10240000], "nice": false, "zero": false}, "axis": null}, "y": {"datum": 2.75, "type": "quantitative", "scale": {"domain": [-4.31, 4.58], "nice": false, "zero": false}, "axis": null}, "y2": {"datum": 3.33}}},
      {"mark": {"type": "rule", "color": "#ff5050"}, "encoding": {"x": {"field": "sh", "type": "quantitative", "scale": {"domain": [-274000, 10240000], "nice": false, "zero": false}, "axis": null}, "y": {"datum": 2.75, "type": "quantitative", "scale": {"domain": [-4.31, 4.58], "nice": false, "zero": false}, "axis": null}, "y2": {"datum": 3.33}}},
      {"data": {"name": "disp_pts"}, "transform": [{"filter": "datum.v > 7500000"}], "mark": {"type": "square", "size": 6, "color": "#111111", "opacity": 1}, "encoding": {"x": {"field": "v", "type": "quantitative", "scale": {"domain": [-274000, 10240000], "nice": false, "zero": false}, "axis": null}, "y": {"datum": 0, "type": "quantitative", "scale": {"domain": [-4.31, 4.58], "nice": false, "zero": false}, "axis": null}}}
     ]},
     {"width": 253, "height": 102, "data": {"name": "disp_hist"}, "layer": [
      {"mark": {"type": "rect", "color": "#6c0cac"}, "encoding": {"x": {"field": "b0", "type": "quantitative", "scale": {"domain": [-274000, 10240000], "nice": false, "zero": false}, "axis": {"values": [0, 1000000, 2000000, 3000000, 4000000, 5000000, 6000000, 7000000, 8000000, 9000000, 10000000], "labelExpr": "indexof([0, 2000000, 5000000, 8000000], datum.value) >= 0 ? format(datum.value, 'd') : ''", "tickSize": 5, "labelFontSize": 14, "labelPadding": 2, "domain": false, "title": null, "labelOverlap": false, "labelFlush": false}}, "x2": {"field": "b1"}, "y": {"field": "n", "type": "quantitative", "scale": {"domain": [0, 11.55], "nice": false}, "axis": null}, "y2": {"datum": 0}}},
      {"mark": {"type": "rect", "color": "#3b0a55"}, "encoding": {"x": {"field": "b0", "type": "quantitative", "scale": {"domain": [-274000, 10240000], "nice": false, "zero": false}, "axis": {"values": [0, 1000000, 2000000, 3000000, 4000000, 5000000, 6000000, 7000000, 8000000, 9000000, 10000000], "labelExpr": "indexof([0, 2000000, 5000000, 8000000], datum.value) >= 0 ? format(datum.value, 'd') : ''", "tickSize": 5, "labelFontSize": 14, "labelPadding": 2, "domain": false, "title": null, "labelOverlap": false, "labelFlush": false}}, "x2": {"field": "b1"}, "y": {"field": "k", "type": "quantitative", "scale": {"domain": [0, 11.55], "nice": false}, "axis": null}, "y2": {"datum": 0}}},
      {"mark": {"type": "rect", "fillOpacity": 0, "stroke": "#111", "strokeWidth": 1.2}, "encoding": {"x": {"field": "b0", "type": "quantitative", "scale": {"domain": [-274000, 10240000], "nice": false, "zero": false}, "axis": {"values": [0, 1000000, 2000000, 3000000, 4000000, 5000000, 6000000, 7000000, 8000000, 9000000, 10000000], "labelExpr": "indexof([0, 2000000, 5000000, 8000000], datum.value) >= 0 ? format(datum.value, 'd') : ''", "tickSize": 5, "labelFontSize": 14, "labelPadding": 2, "domain": false, "title": null, "labelOverlap": false, "labelFlush": false}}, "x2": {"field": "b1"}, "y": {"field": "n", "type": "quantitative", "scale": {"domain": [0, 11.55], "nice": false}, "axis": null}, "y2": {"datum": 0}}},
      {"data": {"name": "disp_curve"}, "mark": {"type": "line", "color": "#2aa8d0", "strokeWidth": 1.2, "clip": true, "interpolate": "monotone"}, "encoding": {"x": {"field": "x", "type": "quantitative", "scale": {"domain": [-274000, 10240000], "nice": false, "zero": false}, "axis": {"values": [0, 1000000, 2000000, 3000000, 4000000, 5000000, 6000000, 7000000, 8000000, 9000000, 10000000], "labelExpr": "indexof([0, 2000000, 5000000, 8000000], datum.value) >= 0 ? format(datum.value, 'd') : ''", "tickSize": 5, "labelFontSize": 14, "labelPadding": 2, "domain": false, "title": null, "labelOverlap": false, "labelFlush": false}}, "y": {"field": "c", "type": "quantitative", "scale": {"domain": [0, 11.55], "nice": false}, "axis": null}}}
     ]}
    ]},
    {"width": 240, "height": 30, "view": {"stroke": null}, "data": {"values": [{"t": "Normal 3 Mixture"}]}, "layer": [
     {"mark": {"type": "rule", "color": "#2aa8d0", "strokeWidth": 1.5}, "encoding": {"x": {"datum": -7, "type": "quantitative", "scale": {"domain": [0, 240], "nice": false, "zero": false}, "axis": null}, "x2": {"datum": 38}, "y": {"datum": 0.63, "type": "quantitative", "scale": {"domain": [0, 1], "nice": false}, "axis": null}}},
     {"mark": {"type": "text", "align": "left", "baseline": "middle", "fontSize": 24, "color": "#000"}, "encoding": {"x": {"datum": 50, "type": "quantitative", "scale": {"domain": [0, 240], "nice": false, "zero": false}, "axis": null}, "y": {"datum": 0.3, "type": "quantitative", "scale": {"domain": [0, 1], "nice": false}, "axis": null}, "text": {"field": "t"}}}
    ]}
   ]},
   {"spacing": 36, "vconcat": [
    {"title": {"text": ["Distributions", "Max Speed"]}, "spacing": 0, "vconcat": [
     {"width": 252, "height": 242, "resolve": {"axis": {"y": "independent"}}, "layer": [
      {"data": {"name": "dec"}, "mark": {"type": "rule", "color": "#c8c8c8"}, "encoding": {"x": {"datum": 10.1, "type": "quantitative", "scale": {"domain": [9.31, 38.17], "nice": false, "zero": false}, "axis": null}, "x2": {"datum": 35}, "y": {"field": "z", "type": "quantitative", "scale": {"domain": [-2.5, 2.5], "nice": false, "zero": false}, "axis": {"orient": "right", "values": [2.3263, 1.6449, 1.2816, 0.6745, 0, -0.6745, -1.2816, -1.6449, -2.3263], "labelExpr": "datum.value == 0 ? '0.0' : format(datum.value, '.2f')", "tickSize": -5, "labelPadding": -2, "labelAlign": "right", "labelBaseline": "middle", "labelFontSize": 11, "domain": false, "title": null, "labelOverlap": false, "labelFlush": false}}}},
      {"data": {"name": "mid"}, "mark": {"type": "rule", "color": "#3ccc3c", "strokeDash": [2, 3], "strokeWidth": 1.5}, "encoding": {"x": {"datum": 12.2, "type": "quantitative", "scale": {"domain": [9.31, 38.17], "nice": false, "zero": false}, "axis": null}, "x2": {"datum": 34.8}, "y": {"field": "z", "type": "quantitative", "scale": {"domain": [-2.5, 2.5], "nice": false, "zero": false}, "axis": {"orient": "right", "values": [-1.8808, -1.7507, -1.6449, -1.5548, -1.4758, -1.4051, -1.3408, -0.5244, -0.2533, 0.2533, 0.5244, 1.3408, 1.4051, 1.4758, 1.5548, 1.6449, 1.7507, 1.8808], "labels": false, "tickSize": 3, "domain": false, "title": null}}}},
      {"data": {"name": "spd_cb"}, "mark": {"type": "line", "color": "#ff4040", "strokeDash": [2, 3], "strokeWidth": 1.3, "clip": true, "interpolate": "monotone"}, "encoding": {"x": {"field": "x", "type": "quantitative", "scale": {"domain": [9.31, 38.17], "nice": false, "zero": false}, "axis": null}, "y": {"field": "z", "type": "quantitative", "scale": {"domain": [-2.5, 2.5], "nice": false, "zero": false}, "axis": null}, "detail": {"field": "c"}}},
      {"data": {"name": "spd_fit"}, "mark": {"type": "line", "color": "#ff3030", "strokeWidth": 1.2, "clip": true}, "encoding": {"x": {"field": "x", "type": "quantitative", "scale": {"domain": [9.31, 38.17], "nice": false, "zero": false}, "axis": null}, "y": {"field": "z", "type": "quantitative", "scale": {"domain": [-2.5, 2.5], "nice": false, "zero": false}, "axis": null}}},
      {"data": {"name": "spd_pts"}, "transform": [{"filter": "datum.s == 'g'"}], "mark": {"type": "square", "size": 6, "color": "#aaaaaa", "opacity": 1}, "encoding": {"x": {"field": "v", "type": "quantitative", "scale": {"domain": [9.31, 38.17], "nice": false, "zero": false}, "axis": null}, "y": {"field": "z", "type": "quantitative", "scale": {"domain": [-2.5, 2.5], "nice": false, "zero": false}, "axis": null}}},
      {"data": {"name": "spd_pts"}, "transform": [{"filter": "datum.s == 'b'"}], "mark": {"type": "square", "size": 6, "color": "#111111", "opacity": 1}, "encoding": {"x": {"field": "v", "type": "quantitative", "scale": {"domain": [9.31, 38.17], "nice": false, "zero": false}, "axis": null}, "y": {"field": "z", "type": "quantitative", "scale": {"domain": [-2.5, 2.5], "nice": false, "zero": false}, "axis": {"orient": "right", "values": [-2.0537, -1.2816, -0.8416, 0, 0.8416, 1.2816, 2.0537], "labelExpr": "datum.value < -2 ? '0.02' : datum.value < -1 ? '0.1' : datum.value < -0.5 ? '0.2' : datum.value < 0.5 ? '0.5' : datum.value < 1 ? '0.8' : datum.value < 2 ? '0.9' : '0.98'", "tickSize": 5, "labelPadding": 2, "labelFontSize": 14.5, "labelOverlap": false, "labelFlush": false, "domain": true, "title": "Normal Quantile Plot", "titleFontSize": 13.5, "titleAngle": 270, "titleBaseline": "top", "titleAnchor": "end", "titlePadding": 8}}}}
     ]},
     {"width": 252, "height": 53, "data": {"name": "spd_box"}, "layer": [
      {"mark": {"type": "rule", "color": "#444"}, "encoding": {"x": {"field": "mn", "type": "quantitative", "scale": {"domain": [9.31, 38.17], "nice": false, "zero": false}, "axis": null}, "x2": {"field": "q1"}, "y": {"datum": 0, "type": "quantitative", "scale": {"domain": [-4.31, 4.58], "nice": false, "zero": false}, "axis": null}}},
      {"mark": {"type": "rule", "color": "#444"}, "encoding": {"x": {"field": "q3", "type": "quantitative", "scale": {"domain": [9.31, 38.17], "nice": false, "zero": false}, "axis": null}, "x2": {"field": "mx"}, "y": {"datum": 0, "type": "quantitative", "scale": {"domain": [-4.31, 4.58], "nice": false, "zero": false}, "axis": null}}},
      {"mark": {"type": "rule", "color": "#444"}, "encoding": {"x": {"field": "mn", "type": "quantitative", "scale": {"domain": [9.31, 38.17], "nice": false, "zero": false}, "axis": null}, "y": {"datum": -1.8, "type": "quantitative", "scale": {"domain": [-4.31, 4.58], "nice": false, "zero": false}, "axis": null}, "y2": {"datum": 1.8}}},
      {"mark": {"type": "rule", "color": "#444"}, "encoding": {"x": {"field": "mx", "type": "quantitative", "scale": {"domain": [9.31, 38.17], "nice": false, "zero": false}, "axis": null}, "y": {"datum": -1.8, "type": "quantitative", "scale": {"domain": [-4.31, 4.58], "nice": false, "zero": false}, "axis": null}, "y2": {"datum": 1.8}}},
      {"mark": {"type": "rect", "fill": "#ffffff", "stroke": "#555", "strokeWidth": 1}, "encoding": {"x": {"field": "q1", "type": "quantitative", "scale": {"domain": [9.31, 38.17], "nice": false, "zero": false}, "axis": null}, "x2": {"field": "q3"}, "y": {"datum": -1.8, "type": "quantitative", "scale": {"domain": [-4.31, 4.58], "nice": false, "zero": false}, "axis": null}, "y2": {"datum": 1.8}}},
      {"mark": {"type": "rule", "color": "#222"}, "encoding": {"x": {"field": "md", "type": "quantitative", "scale": {"domain": [9.31, 38.17], "nice": false, "zero": false}, "axis": null}, "y": {"datum": -1.8, "type": "quantitative", "scale": {"domain": [-4.31, 4.58], "nice": false, "zero": false}, "axis": null}, "y2": {"datum": 1.8}}},
      {"mark": {"type": "rule", "color": "#111"}, "encoding": {"x": {"field": "cl", "type": "quantitative", "scale": {"domain": [9.31, 38.17], "nice": false, "zero": false}, "axis": null}, "x2": {"field": "mu"}, "y": {"datum": 0, "type": "quantitative", "scale": {"domain": [-4.31, 4.58], "nice": false, "zero": false}, "axis": null}, "y2": {"datum": 1}}},
      {"mark": {"type": "rule", "color": "#111"}, "encoding": {"x": {"field": "mu", "type": "quantitative", "scale": {"domain": [9.31, 38.17], "nice": false, "zero": false}, "axis": null}, "x2": {"field": "ch"}, "y": {"datum": 1, "type": "quantitative", "scale": {"domain": [-4.31, 4.58], "nice": false, "zero": false}, "axis": null}, "y2": {"datum": 0}}},
      {"mark": {"type": "rule", "color": "#111"}, "encoding": {"x": {"field": "ch", "type": "quantitative", "scale": {"domain": [9.31, 38.17], "nice": false, "zero": false}, "axis": null}, "x2": {"field": "mu"}, "y": {"datum": 0, "type": "quantitative", "scale": {"domain": [-4.31, 4.58], "nice": false, "zero": false}, "axis": null}, "y2": {"datum": -1}}},
      {"mark": {"type": "rule", "color": "#111"}, "encoding": {"x": {"field": "mu", "type": "quantitative", "scale": {"domain": [9.31, 38.17], "nice": false, "zero": false}, "axis": null}, "x2": {"field": "cl"}, "y": {"datum": -1, "type": "quantitative", "scale": {"domain": [-4.31, 4.58], "nice": false, "zero": false}, "axis": null}, "y2": {"datum": 0}}},
      {"mark": {"type": "rule", "color": "#ff5050"}, "encoding": {"x": {"field": "sl", "type": "quantitative", "scale": {"domain": [9.31, 38.17], "nice": false, "zero": false}, "axis": null}, "x2": {"field": "sh"}, "y": {"datum": 3.33, "type": "quantitative", "scale": {"domain": [-4.31, 4.58], "nice": false, "zero": false}, "axis": null}}},
      {"mark": {"type": "rule", "color": "#ff5050"}, "encoding": {"x": {"field": "sl", "type": "quantitative", "scale": {"domain": [9.31, 38.17], "nice": false, "zero": false}, "axis": null}, "y": {"datum": 2.75, "type": "quantitative", "scale": {"domain": [-4.31, 4.58], "nice": false, "zero": false}, "axis": null}, "y2": {"datum": 3.33}}},
      {"mark": {"type": "rule", "color": "#ff5050"}, "encoding": {"x": {"field": "sh", "type": "quantitative", "scale": {"domain": [9.31, 38.17], "nice": false, "zero": false}, "axis": null}, "y": {"datum": 2.75, "type": "quantitative", "scale": {"domain": [-4.31, 4.58], "nice": false, "zero": false}, "axis": null}, "y2": {"datum": 3.33}}}
     ]},
     {"width": 252, "height": 100, "data": {"name": "spd_hist"}, "layer": [
      {"mark": {"type": "rect", "color": "#e8780c"}, "encoding": {"x": {"field": "b0", "type": "quantitative", "scale": {"domain": [9.31, 38.17], "nice": false, "zero": false}, "axis": {"values": [10, 12.5, 15, 17.5, 20, 22.5, 25, 27.5, 30, 32.5, 35, 37.5], "labelExpr": "datum.value % 5 == 0 ? format(datum.value, 'd') : ''", "tickSize": 5, "labelFontSize": 14, "labelPadding": 2, "domain": false, "title": null, "labelOverlap": false, "labelFlush": false}}, "x2": {"field": "b1"}, "y": {"field": "n", "type": "quantitative", "scale": {"domain": [0, 18.2], "nice": false}, "axis": null}, "y2": {"datum": 0}}},
      {"mark": {"type": "rect", "color": "#7a3c08"}, "encoding": {"x": {"field": "b0", "type": "quantitative", "scale": {"domain": [9.31, 38.17], "nice": false, "zero": false}, "axis": {"values": [10, 12.5, 15, 17.5, 20, 22.5, 25, 27.5, 30, 32.5, 35, 37.5], "labelExpr": "datum.value % 5 == 0 ? format(datum.value, 'd') : ''", "tickSize": 5, "labelFontSize": 14, "labelPadding": 2, "domain": false, "title": null, "labelOverlap": false, "labelFlush": false}}, "x2": {"field": "b1"}, "y": {"field": "k", "type": "quantitative", "scale": {"domain": [0, 18.2], "nice": false}, "axis": null}, "y2": {"datum": 0}}},
      {"mark": {"type": "rect", "fillOpacity": 0, "stroke": "#111", "strokeWidth": 1.2}, "encoding": {"x": {"field": "b0", "type": "quantitative", "scale": {"domain": [9.31, 38.17], "nice": false, "zero": false}, "axis": {"values": [10, 12.5, 15, 17.5, 20, 22.5, 25, 27.5, 30, 32.5, 35, 37.5], "labelExpr": "datum.value % 5 == 0 ? format(datum.value, 'd') : ''", "tickSize": 5, "labelFontSize": 14, "labelPadding": 2, "domain": false, "title": null, "labelOverlap": false, "labelFlush": false}}, "x2": {"field": "b1"}, "y": {"field": "n", "type": "quantitative", "scale": {"domain": [0, 18.2], "nice": false}, "axis": null}, "y2": {"datum": 0}}},
      {"data": {"name": "spd_curve"}, "mark": {"type": "line", "color": "#e030b0", "strokeWidth": 1.2, "clip": true, "interpolate": "monotone"}, "encoding": {"x": {"field": "x", "type": "quantitative", "scale": {"domain": [9.31, 38.17], "nice": false, "zero": false}, "axis": {"values": [10, 12.5, 15, 17.5, 20, 22.5, 25, 27.5, 30, 32.5, 35, 37.5], "labelExpr": "datum.value % 5 == 0 ? format(datum.value, 'd') : ''", "tickSize": 5, "labelFontSize": 14, "labelPadding": 2, "domain": false, "title": null, "labelOverlap": false, "labelFlush": false}}, "y": {"field": "c", "type": "quantitative", "scale": {"domain": [0, 18.2], "nice": false}, "axis": null}}}
     ]}
    ]},
    {"width": 240, "height": 30, "view": {"stroke": null}, "data": {"values": [{"t": "Normal 3 Mixture"}]}, "layer": [
     {"mark": {"type": "rule", "color": "#e030b0", "strokeWidth": 1.5}, "encoding": {"x": {"datum": -7, "type": "quantitative", "scale": {"domain": [0, 240], "nice": false, "zero": false}, "axis": null}, "x2": {"datum": 38}, "y": {"datum": 0.63, "type": "quantitative", "scale": {"domain": [0, 1], "nice": false}, "axis": null}}},
     {"mark": {"type": "text", "align": "left", "baseline": "middle", "fontSize": 24, "color": "#000"}, "encoding": {"x": {"datum": 50, "type": "quantitative", "scale": {"domain": [0, 240], "nice": false, "zero": false}, "axis": null}, "y": {"datum": 0.3, "type": "quantitative", "scale": {"domain": [0, 1], "nice": false}, "axis": null}, "text": {"field": "t"}}}
    ]}
   ]}
  ]}
 ]},
 {"spacing": 5, "vconcat": [
  {"spacing": 36, "vconcat": [
   {"title": {"text": ["Distributions", "Crew"]}, "spacing": 0, "vconcat": [
    {"width": 243, "height": 232, "resolve": {"axis": {"y": "independent"}}, "layer": [
     {"data": {"name": "dec"}, "mark": {"type": "rule", "color": "#c8c8c8"}, "encoding": {"x": {"datum": 1.1, "type": "quantitative", "scale": {"domain": [-4.3, 179.4], "nice": false, "zero": false}, "axis": null}, "x2": {"datum": 158}, "y": {"field": "z", "type": "quantitative", "scale": {"domain": [-2.5, 2.5], "nice": false, "zero": false}, "axis": {"orient": "right", "values": [2.3263, 1.6449, 1.2816, 0.6745, 0, -0.6745, -1.2816, -1.6449, -2.3263], "labelExpr": "datum.value == 0 ? '0.0' : format(datum.value, '.2f')", "tickSize": -5, "labelPadding": -2, "labelAlign": "right", "labelBaseline": "middle", "labelFontSize": 11, "domain": false, "title": null, "labelOverlap": false, "labelFlush": false}}}},
     {"data": {"name": "mid"}, "mark": {"type": "rule", "color": "#3ccc3c", "strokeDash": [2, 3], "strokeWidth": 1.5}, "encoding": {"x": {"datum": 6.5, "type": "quantitative", "scale": {"domain": [-4.3, 179.4], "nice": false, "zero": false}, "axis": null}, "x2": {"datum": 160.5}, "y": {"field": "z", "type": "quantitative", "scale": {"domain": [-2.5, 2.5], "nice": false, "zero": false}, "axis": {"orient": "right", "values": [-1.8808, -1.7507, -1.6449, -1.5548, -1.4758, -1.4051, -1.3408, -0.5244, -0.2533, 0.2533, 0.5244, 1.3408, 1.4051, 1.4758, 1.5548, 1.6449, 1.7507, 1.8808], "labels": false, "tickSize": 3, "domain": false, "title": null}}}},
     {"data": {"name": "crew_cb"}, "mark": {"type": "line", "color": "#ff4040", "strokeDash": [2, 3], "strokeWidth": 1.3, "clip": true, "interpolate": "monotone"}, "encoding": {"x": {"field": "x", "type": "quantitative", "scale": {"domain": [-4.3, 179.4], "nice": false, "zero": false}, "axis": null}, "y": {"field": "z", "type": "quantitative", "scale": {"domain": [-2.5, 2.5], "nice": false, "zero": false}, "axis": null}, "detail": {"field": "c"}}},
     {"data": {"name": "crew_fit"}, "mark": {"type": "line", "color": "#ff3030", "strokeWidth": 1.2, "clip": true}, "encoding": {"x": {"field": "x", "type": "quantitative", "scale": {"domain": [-4.3, 179.4], "nice": false, "zero": false}, "axis": null}, "y": {"field": "z", "type": "quantitative", "scale": {"domain": [-2.5, 2.5], "nice": false, "zero": false}, "axis": null}}},
     {"data": {"name": "crew_pts"}, "transform": [{"filter": "datum.s == 'g'"}], "mark": {"type": "square", "size": 6, "color": "#aaaaaa", "opacity": 1}, "encoding": {"x": {"field": "v", "type": "quantitative", "scale": {"domain": [-4.3, 179.4], "nice": false, "zero": false}, "axis": null}, "y": {"field": "z", "type": "quantitative", "scale": {"domain": [-2.5, 2.5], "nice": false, "zero": false}, "axis": null}}},
     {"data": {"name": "crew_pts"}, "transform": [{"filter": "datum.s == 'b'"}], "mark": {"type": "square", "size": 6, "color": "#111111", "opacity": 1}, "encoding": {"x": {"field": "v", "type": "quantitative", "scale": {"domain": [-4.3, 179.4], "nice": false, "zero": false}, "axis": null}, "y": {"field": "z", "type": "quantitative", "scale": {"domain": [-2.5, 2.5], "nice": false, "zero": false}, "axis": {"orient": "right", "values": [-2.0537, -1.2816, -0.8416, 0, 0.8416, 1.2816, 2.0537], "labelExpr": "datum.value < -2 ? '0.02' : datum.value < -1 ? '0.1' : datum.value < -0.5 ? '0.2' : datum.value < 0.5 ? '0.5' : datum.value < 1 ? '0.8' : datum.value < 2 ? '0.9' : '0.98'", "tickSize": 5, "labelPadding": 2, "labelFontSize": 14.5, "labelOverlap": false, "labelFlush": false, "domain": true, "title": "Normal Quantile Plot", "titleFontSize": 13.5, "titleAngle": 270, "titleBaseline": "top", "titleAnchor": "end", "titlePadding": 8}}}}
    ]},
    {"width": 243, "height": 52, "data": {"name": "crew_box"}, "layer": [
     {"mark": {"type": "rule", "color": "#444"}, "encoding": {"x": {"field": "mn", "type": "quantitative", "scale": {"domain": [-4.3, 179.4], "nice": false, "zero": false}, "axis": null}, "x2": {"field": "q1"}, "y": {"datum": 0, "type": "quantitative", "scale": {"domain": [-4.31, 4.58], "nice": false, "zero": false}, "axis": null}}},
     {"mark": {"type": "rule", "color": "#444"}, "encoding": {"x": {"field": "q3", "type": "quantitative", "scale": {"domain": [-4.3, 179.4], "nice": false, "zero": false}, "axis": null}, "x2": {"field": "mx"}, "y": {"datum": 0, "type": "quantitative", "scale": {"domain": [-4.31, 4.58], "nice": false, "zero": false}, "axis": null}}},
     {"mark": {"type": "rule", "color": "#444"}, "encoding": {"x": {"field": "mn", "type": "quantitative", "scale": {"domain": [-4.3, 179.4], "nice": false, "zero": false}, "axis": null}, "y": {"datum": -1.8, "type": "quantitative", "scale": {"domain": [-4.31, 4.58], "nice": false, "zero": false}, "axis": null}, "y2": {"datum": 1.8}}},
     {"mark": {"type": "rule", "color": "#444"}, "encoding": {"x": {"field": "mx", "type": "quantitative", "scale": {"domain": [-4.3, 179.4], "nice": false, "zero": false}, "axis": null}, "y": {"datum": -1.8, "type": "quantitative", "scale": {"domain": [-4.31, 4.58], "nice": false, "zero": false}, "axis": null}, "y2": {"datum": 1.8}}},
     {"mark": {"type": "rect", "fill": "#ffffff", "stroke": "#555", "strokeWidth": 1}, "encoding": {"x": {"field": "q1", "type": "quantitative", "scale": {"domain": [-4.3, 179.4], "nice": false, "zero": false}, "axis": null}, "x2": {"field": "q3"}, "y": {"datum": -1.8, "type": "quantitative", "scale": {"domain": [-4.31, 4.58], "nice": false, "zero": false}, "axis": null}, "y2": {"datum": 1.8}}},
     {"mark": {"type": "rule", "color": "#222"}, "encoding": {"x": {"field": "md", "type": "quantitative", "scale": {"domain": [-4.3, 179.4], "nice": false, "zero": false}, "axis": null}, "y": {"datum": -1.8, "type": "quantitative", "scale": {"domain": [-4.31, 4.58], "nice": false, "zero": false}, "axis": null}, "y2": {"datum": 1.8}}},
     {"mark": {"type": "rule", "color": "#111"}, "encoding": {"x": {"field": "cl", "type": "quantitative", "scale": {"domain": [-4.3, 179.4], "nice": false, "zero": false}, "axis": null}, "x2": {"field": "mu"}, "y": {"datum": 0, "type": "quantitative", "scale": {"domain": [-4.31, 4.58], "nice": false, "zero": false}, "axis": null}, "y2": {"datum": 1}}},
     {"mark": {"type": "rule", "color": "#111"}, "encoding": {"x": {"field": "mu", "type": "quantitative", "scale": {"domain": [-4.3, 179.4], "nice": false, "zero": false}, "axis": null}, "x2": {"field": "ch"}, "y": {"datum": 1, "type": "quantitative", "scale": {"domain": [-4.31, 4.58], "nice": false, "zero": false}, "axis": null}, "y2": {"datum": 0}}},
     {"mark": {"type": "rule", "color": "#111"}, "encoding": {"x": {"field": "ch", "type": "quantitative", "scale": {"domain": [-4.3, 179.4], "nice": false, "zero": false}, "axis": null}, "x2": {"field": "mu"}, "y": {"datum": 0, "type": "quantitative", "scale": {"domain": [-4.31, 4.58], "nice": false, "zero": false}, "axis": null}, "y2": {"datum": -1}}},
     {"mark": {"type": "rule", "color": "#111"}, "encoding": {"x": {"field": "mu", "type": "quantitative", "scale": {"domain": [-4.3, 179.4], "nice": false, "zero": false}, "axis": null}, "x2": {"field": "cl"}, "y": {"datum": -1, "type": "quantitative", "scale": {"domain": [-4.31, 4.58], "nice": false, "zero": false}, "axis": null}, "y2": {"datum": 0}}},
     {"mark": {"type": "rule", "color": "#ff5050"}, "encoding": {"x": {"field": "sl", "type": "quantitative", "scale": {"domain": [-4.3, 179.4], "nice": false, "zero": false}, "axis": null}, "x2": {"field": "sh"}, "y": {"datum": 3.33, "type": "quantitative", "scale": {"domain": [-4.31, 4.58], "nice": false, "zero": false}, "axis": null}}},
     {"mark": {"type": "rule", "color": "#ff5050"}, "encoding": {"x": {"field": "sl", "type": "quantitative", "scale": {"domain": [-4.3, 179.4], "nice": false, "zero": false}, "axis": null}, "y": {"datum": 2.75, "type": "quantitative", "scale": {"domain": [-4.31, 4.58], "nice": false, "zero": false}, "axis": null}, "y2": {"datum": 3.33}}},
     {"mark": {"type": "rule", "color": "#ff5050"}, "encoding": {"x": {"field": "sh", "type": "quantitative", "scale": {"domain": [-4.3, 179.4], "nice": false, "zero": false}, "axis": null}, "y": {"datum": 2.75, "type": "quantitative", "scale": {"domain": [-4.31, 4.58], "nice": false, "zero": false}, "axis": null}, "y2": {"datum": 3.33}}},
     {"data": {"name": "crew_pts"}, "transform": [{"filter": "datum.v > 140"}], "mark": {"type": "square", "size": 6, "color": "#111111", "opacity": 1}, "encoding": {"x": {"field": "v", "type": "quantitative", "scale": {"domain": [-4.3, 179.4], "nice": false, "zero": false}, "axis": null}, "y": {"datum": 0, "type": "quantitative", "scale": {"domain": [-4.31, 4.58], "nice": false, "zero": false}, "axis": null}}}
    ]},
    {"width": 243, "height": 97, "data": {"name": "crew_hist"}, "layer": [
     {"mark": {"type": "rect", "color": "#b9c9b9"}, "encoding": {"x": {"field": "b0", "type": "quantitative", "scale": {"domain": [-4.3, 179.4], "nice": false, "zero": false}, "axis": {"values": [0, 25, 50, 75, 100, 125, 150, 175], "labelExpr": "datum.value % 50 == 0 ? format(datum.value, 'd') : ''", "tickSize": 5, "labelFontSize": 14, "labelPadding": 2, "domain": false, "title": null, "labelOverlap": false, "labelFlush": false}}, "x2": {"field": "b1"}, "y": {"field": "n", "type": "quantitative", "scale": {"domain": [0, 16], "nice": false}, "axis": null}, "y2": {"datum": 0}}},
     {"mark": {"type": "rect", "color": "#5b7b5b"}, "encoding": {"x": {"field": "b0", "type": "quantitative", "scale": {"domain": [-4.3, 179.4], "nice": false, "zero": false}, "axis": {"values": [0, 25, 50, 75, 100, 125, 150, 175], "labelExpr": "datum.value % 50 == 0 ? format(datum.value, 'd') : ''", "tickSize": 5, "labelFontSize": 14, "labelPadding": 2, "domain": false, "title": null, "labelOverlap": false, "labelFlush": false}}, "x2": {"field": "b1"}, "y": {"field": "k", "type": "quantitative", "scale": {"domain": [0, 16], "nice": false}, "axis": null}, "y2": {"datum": 0}}},
     {"mark": {"type": "rect", "fillOpacity": 0, "stroke": "#111", "strokeWidth": 1.2}, "encoding": {"x": {"field": "b0", "type": "quantitative", "scale": {"domain": [-4.3, 179.4], "nice": false, "zero": false}, "axis": {"values": [0, 25, 50, 75, 100, 125, 150, 175], "labelExpr": "datum.value % 50 == 0 ? format(datum.value, 'd') : ''", "tickSize": 5, "labelFontSize": 14, "labelPadding": 2, "domain": false, "title": null, "labelOverlap": false, "labelFlush": false}}, "x2": {"field": "b1"}, "y": {"field": "n", "type": "quantitative", "scale": {"domain": [0, 16], "nice": false}, "axis": null}, "y2": {"datum": 0}}},
     {"data": {"name": "crew_curve"}, "mark": {"type": "line", "color": "#20c090", "strokeWidth": 1.2, "clip": true, "interpolate": "monotone"}, "encoding": {"x": {"field": "x", "type": "quantitative", "scale": {"domain": [-4.3, 179.4], "nice": false, "zero": false}, "axis": {"values": [0, 25, 50, 75, 100, 125, 150, 175], "labelExpr": "datum.value % 50 == 0 ? format(datum.value, 'd') : ''", "tickSize": 5, "labelFontSize": 14, "labelPadding": 2, "domain": false, "title": null, "labelOverlap": false, "labelFlush": false}}, "y": {"field": "c", "type": "quantitative", "scale": {"domain": [0, 16], "nice": false}, "axis": null}}}
    ]}
   ]},
   {"width": 240, "height": 30, "view": {"stroke": null}, "data": {"values": [{"t": "Gamma(2.71571,21.48,0"}]}, "layer": [
    {"mark": {"type": "rule", "color": "#20c090", "strokeWidth": 1.5}, "encoding": {"x": {"datum": -6, "type": "quantitative", "scale": {"domain": [0, 240], "nice": false, "zero": false}, "axis": null}, "x2": {"datum": 39}, "y": {"datum": 0.63, "type": "quantitative", "scale": {"domain": [0, 1], "nice": false}, "axis": null}}},
    {"mark": {"type": "text", "align": "left", "baseline": "middle", "fontSize": 24, "color": "#000"}, "encoding": {"x": {"datum": 43, "type": "quantitative", "scale": {"domain": [0, 240], "nice": false, "zero": false}, "axis": null}, "y": {"datum": 0.3, "type": "quantitative", "scale": {"domain": [0, 1], "nice": false}, "axis": null}, "text": {"field": "t"}}}
   ]}
  ]},
  {"title": {"text": ["Distributions", "Helicopter"]}, "spacing": 7, "vconcat": [
   {"width": 264, "height": 106, "data": {"name": "heli"}, "layer": [
    {"transform": [{"filter": "datum.k == '0'"}], "mark": {"type": "bar", "color": "#22bb33", "stroke": "#111", "strokeWidth": 1}, "encoding": {"x": {"field": "k", "type": "nominal", "scale": {"domain": ["0", "1", "2"], "paddingInner": 0.131, "paddingOuter": 0.137}, "axis": {"labelAngle": 0, "ticks": false, "domain": false, "labelFontSize": 15, "labelPadding": 4, "title": null}}, "y": {"field": "n", "type": "quantitative", "scale": {"domain": [0, 33], "nice": false}, "axis": {"orient": "right", "values": [5, 10, 15, 20, 25, 30], "labelExpr": "datum.value == 10 ? '10' : datum.value == 20 ? '20' : ''", "tickSize": 6, "labelPadding": 3, "labelFontSize": 14, "title": "Count", "titleFontSize": 14.5, "titleAngle": 270, "titleBaseline": "top", "titlePadding": 2, "domain": false, "labelOverlap": false, "labelFlush": false}}}},
    {"transform": [{"filter": "datum.k != '0'"}], "mark": {"type": "bar", "color": "#156b1f", "stroke": "#111", "strokeWidth": 1}, "encoding": {"x": {"field": "k", "type": "nominal", "scale": {"domain": ["0", "1", "2"], "paddingInner": 0.131, "paddingOuter": 0.137}, "axis": {"labelAngle": 0, "ticks": false, "domain": false, "labelFontSize": 15, "labelPadding": 4, "title": null}}, "y": {"field": "n", "type": "quantitative", "scale": {"domain": [0, 33], "nice": false}, "axis": {"orient": "right", "values": [5, 10, 15, 20, 25, 30], "labelExpr": "datum.value == 10 ? '10' : datum.value == 20 ? '20' : ''", "tickSize": 6, "labelPadding": 3, "labelFontSize": 14, "title": "Count", "titleFontSize": 14.5, "titleAngle": 270, "titleBaseline": "top", "titlePadding": 2, "domain": false, "labelOverlap": false, "labelFlush": false}}}},
    {"mark": {"type": "text", "baseline": "bottom", "dy": -1, "fontSize": 11.5, "color": "#000"}, "encoding": {"x": {"field": "k", "type": "nominal", "scale": {"domain": ["0", "1", "2"], "paddingInner": 0.131, "paddingOuter": 0.137}, "axis": {"labelAngle": 0, "ticks": false, "domain": false, "labelFontSize": 15, "labelPadding": 4, "title": null}}, "y": {"field": "n", "type": "quantitative", "scale": {"domain": [0, 33], "nice": false}, "axis": {"orient": "right", "values": [5, 10, 15, 20, 25, 30], "labelExpr": "datum.value == 10 ? '10' : datum.value == 20 ? '20' : ''", "tickSize": 6, "labelPadding": 3, "labelFontSize": 14, "title": "Count", "titleFontSize": 14.5, "titleAngle": 270, "titleBaseline": "top", "titlePadding": 2, "domain": false, "labelOverlap": false, "labelFlush": false}}, "text": {"field": "lab"}}}
   ]},
   {"width": 264, "height": 56, "data": {"name": "heli"}, "layer": [
    {"transform": [{"filter": "datum.k == '0'"}], "mark": {"type": "rect", "color": "#d84a5a", "stroke": "#111", "strokeWidth": 1, "x2Offset": -2.5}, "encoding": {"x": {"field": "p0", "type": "quantitative", "scale": {"domain": [-0.0297, 1.0305], "nice": false, "zero": false}, "axis": {"values": [0.2, 0.678, 0.978], "labelExpr": "datum.value < 0.3 ? '0' : datum.value < 0.9 ? '1' : '2'", "ticks": false, "domain": false, "labelFontSize": 15, "labelPadding": 3, "title": null, "labelOverlap": false, "labelFlush": false}}, "x2": {"field": "p1"}, "y": {"datum": 0.13, "type": "quantitative", "scale": {"domain": [0, 1], "nice": false}, "axis": null}, "y2": {"datum": 0.87}}},
    {"transform": [{"filter": "datum.k == '1'"}], "mark": {"type": "rect", "color": "#1f5a28", "stroke": "#111", "strokeWidth": 1, "x2Offset": -2.5}, "encoding": {"x": {"field": "p0", "type": "quantitative", "scale": {"domain": [-0.0297, 1.0305], "nice": false, "zero": false}}, "x2": {"field": "p1"}, "y": {"datum": 0.13, "type": "quantitative", "scale": {"domain": [0, 1], "nice": false}}, "y2": {"datum": 0.87}}},
    {"transform": [{"filter": "datum.k == '2'"}], "mark": {"type": "rect", "color": "#1c3484", "stroke": "#111", "strokeWidth": 1}, "encoding": {"x": {"field": "p0", "type": "quantitative", "scale": {"domain": [-0.0297, 1.0305], "nice": false, "zero": false}}, "x2": {"field": "p1"}, "y": {"datum": 0.13, "type": "quantitative", "scale": {"domain": [0, 1], "nice": false}}, "y2": {"datum": 0.87}}}
   ]}
  ]}
 ]}
]
}
